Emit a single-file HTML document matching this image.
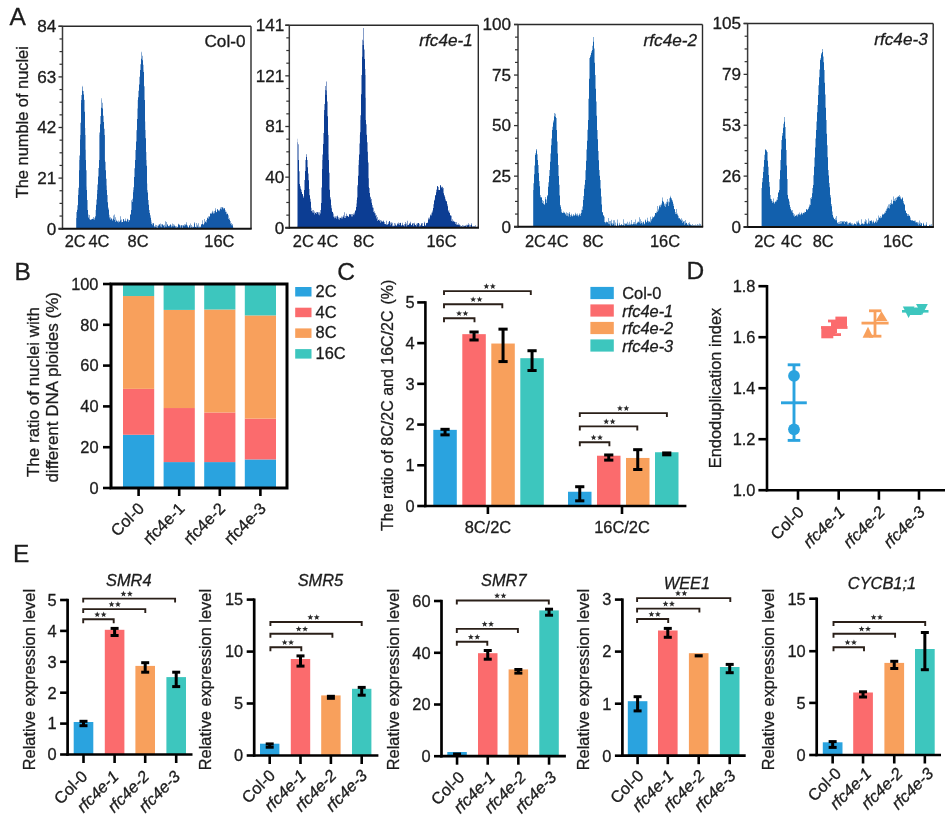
<!DOCTYPE html>
<html><head><meta charset="utf-8"><style>
html,body{margin:0;padding:0;background:#fff;}
body{width:945px;height:821px;overflow:hidden;}
svg{display:block;font-family:"Liberation Sans",sans-serif;will-change:transform;}
</style></head><body>
<svg width="945" height="821" viewBox="0 0 945 821">
<rect width="945" height="821" fill="#fff"/>
<text x="9.5" y="24.7" font-size="24.5" text-anchor="start" fill="#1c1c1c" stroke="#1c1c1c" stroke-width="0.3">A</text>
<text x="0" y="0" font-size="16.4" text-anchor="middle" transform="translate(28.2 122.2) rotate(-90)" fill="#1c1c1c" stroke="#1c1c1c" stroke-width="0.3">The numble of nuclei</text>
<polygon points="76,228.7 76,228.7 76.2,228.7 76.2,218 76.5,218 76.5,212.03 77,212.03 77,209.04 77.1,209.04 77.1,210 77.5,210 77.5,205.15 78,205.15 78,195.05 78.4,195.05 78.4,190 78.5,190 78.5,187.74 79,187.74 79,170.19 79.3,170.19 79.3,160 79.5,160 79.5,155.59 80,155.59 80,139.47 80.2,139.47 80.2,135 80.5,135 80.5,122.83 81,122.83 81,103.04 81.1,103.04 81.1,100 81.5,100 81.5,95.08 82,95.08 82,90.72 82.4,90.72 82.4,85.5 82.5,85.5 82.5,86.55 83,86.55 83,90.95 83.5,90.95 83.5,94.58 84,94.58 84,99.26 84.1,99.26 84.1,100 84.5,100 84.5,111.67 85,111.67 85,127.93 85.2,127.93 85.2,135 85.5,135 85.5,149.83 85.7,149.83 85.7,160 86,160 86,170.21 86.5,170.21 86.5,186.55 86.6,186.55 86.6,190 87,190 87,200.07 87.5,200.07 87.5,210 88,210 88,214.55 88.4,214.55 88.4,218 88.5,218 88.5,217.4 89,217.4 89,219.2 89.5,219.2 89.5,215.09 90,215.09 90,219.5 90.5,219.5 90.5,220.09 91,220.09 91,219.5 91.5,219.5 91.5,219.18 92,219.18 92,219 92.5,219 92.5,218.75 93,218.75 93,216.95 93.5,216.95 93.5,219.15 94,219.15 94,219.7 94.5,219.7 94.5,217.81 95,217.81 95,216.21 95.4,216.21 95.4,218 95.5,218 95.5,216.41 95.7,216.41 95.7,210 96,210 96,204.86 96.5,204.86 96.5,199.53 97,199.53 97,193.94 97.2,193.94 97.2,190 97.5,190 97.5,184.47 98,184.47 98,176.46 98.5,176.46 98.5,167.99 99,167.99 99,160 99.4,160 99.4,135 99.5,135 99.5,132.49 100,132.49 100,124.21 100.5,124.21 100.5,116.01 101,116.01 101,107.67 101.5,107.67 101.5,99.93 101.6,99.93 101.6,98.3 102,98.3 102,102.79 102.5,102.79 102.5,108.5 103,108.5 103,115.82 103.5,115.82 103.5,122.03 104,122.03 104,128.83 104.5,128.83 104.5,135 104.9,135 104.9,160 105,160 105,161.7 105.5,161.7 105.5,170.28 106,170.28 106,178.76 106.5,178.76 106.5,185.6 106.7,185.6 106.7,190 107,190 107,195.12 107.5,195.12 107.5,202.16 108,202.16 108,206.9 108.2,206.9 108.2,210 108.5,210 108.5,208.48 109,208.48 109,214.65 109.4,214.65 109.4,219 109.5,219 109.5,217.42 110,217.42 110,217.21 110.5,217.21 110.5,219.65 111,219.65 111,218.29 111.5,218.29 111.5,218.82 112,218.82 112,220.85 112.5,220.85 112.5,219.4 113,219.4 113,215.61 113.5,215.61 113.5,218.77 114,218.77 114,214.57 114.5,214.57 114.5,220 115,220 115,217.33 115.5,217.33 115.5,221.98 116,221.98 116,220.94 116.5,220.94 116.5,219.71 117,219.71 117,221.41 117.5,221.41 117.5,221.53 118,221.53 118,220.5 118.5,220.5 118.5,222.42 119,222.42 119,221.68 119.5,221.68 119.5,221.39 120,221.39 120,220.48 120.5,220.48 120.5,216.31 121,216.31 121,219.4 121.5,219.4 121.5,222.17 122,222.17 122,222.07 122.5,222.07 122.5,222.12 123,222.12 123,219.16 123.5,219.16 123.5,219.04 124,219.04 124,220.73 124.5,220.73 124.5,221.57 125,221.57 125,220.8 125.5,220.8 125.5,218.5 126,218.5 126,221.78 126.5,221.78 126.5,221.12 127,221.12 127,218.81 127.5,218.81 127.5,219.41 128,219.41 128,221.94 128.5,221.94 128.5,219.64 129,219.64 129,220.91 129.2,220.91 129.2,220 129.5,220 129.5,219.95 130,219.95 130,214.14 130.5,214.14 130.5,214.7 131,214.7 131,210 131.5,210 131.5,200.25 132,200.25 132,201.9 132.5,201.9 132.5,198.69 133,198.69 133,192.34 133.3,192.34 133.3,190 133.5,190 133.5,187.25 134,187.25 134,176.95 134.5,176.95 134.5,168.23 135,168.23 135,160 135.5,160 135.5,150 136,150 136,141.46 136.5,141.46 136.5,131.3 136.6,131.3 136.6,130 137,130 137,119.11 137.5,119.11 137.5,108.48 137.8,108.48 137.8,100 138,100 138,97.17 138.5,97.17 138.5,90.65 139,90.65 139,84.61 139.5,84.61 139.5,76.63 140,76.63 140,70 140.5,70 140.5,64.32 141,64.32 141,58.7 141.5,58.7 141.5,52.99 141.6,52.99 141.6,51.8 142,51.8 142,55.7 142.5,55.7 142.5,60.14 143,60.14 143,64.76 143.4,64.76 143.4,70 143.5,70 143.5,71.94 144,71.94 144,86.3 144.5,86.3 144.5,100 145,100 145,121.56 145.2,121.56 145.2,130 145.5,130 145.5,138.23 146,138.23 146,151.95 146.3,151.95 146.3,160 146.5,160 146.5,165.72 147,165.72 147,183.48 147.2,183.48 147.2,190 147.5,190 147.5,192.44 148,192.44 148,199.98 148.5,199.98 148.5,204.69 149,204.69 149,210 149.5,210 149.5,213.06 150,213.06 150,215.27 150.5,215.27 150.5,217.64 151,217.64 151,220.35 151.3,220.35 151.3,222 151.5,222 151.5,224.07 152,224.07 152,223.28 152.5,223.28 152.5,225.14 153,225.14 153,223.01 153.5,223.01 153.5,223.55 154,223.55 154,226 154.5,226 154.5,227.14 155,227.14 155,224.63 155.5,224.63 155.5,226.66 156,226.66 156,227.55 156.5,227.55 156.5,224.91 157,224.91 157,225.63 157.5,225.63 157.5,228 158,228 158,224.69 158.5,224.69 158.5,226.11 159,226.11 159,224.84 159.5,224.84 159.5,224.06 160,224.06 160,223.5 160.5,223.5 160.5,226.57 161,226.57 161,224.33 161.5,224.33 161.5,227.23 162,227.23 162,224.51 162.5,224.51 162.5,224.25 163,224.25 163,225.18 163.5,225.18 163.5,225.79 164,225.79 164,227.38 164.5,227.38 164.5,224.71 165,224.71 165,226.4 165.5,226.4 165.5,221.26 166,221.26 166,221.99 166.5,221.99 166.5,226.67 167,226.67 167,224.48 167.5,224.48 167.5,224.41 168,224.41 168,225.97 168.5,225.97 168.5,226.37 169,226.37 169,225.23 169.5,225.23 169.5,226.28 170,226.28 170,224.61 170.5,224.61 170.5,224.38 171,224.38 171,225.43 171.5,225.43 171.5,227.23 172,227.23 172,226.2 172.5,226.2 172.5,223.46 173,223.46 173,224.27 173.5,224.27 173.5,226.42 174,226.42 174,226.12 174.5,226.12 174.5,224.65 175,224.65 175,225.96 175.5,225.96 175.5,227.57 176,227.57 176,226.27 176.5,226.27 176.5,228.17 177,228.17 177,227.58 177.5,227.58 177.5,226.8 178,226.8 178,223.83 178.5,223.83 178.5,224.55 179,224.55 179,225.29 179.5,225.29 179.5,224.62 180,224.62 180,227.76 180.5,227.76 180.5,225.42 181,225.42 181,225.47 181.5,225.47 181.5,224.93 182,224.93 182,225.36 182.5,225.36 182.5,228.2 183,228.2 183,225.29 183.5,225.29 183.5,225.56 184,225.56 184,224.33 184.5,224.33 184.5,226.23 185,226.23 185,225.14 185.5,225.14 185.5,224.36 186,224.36 186,224.71 186.5,224.71 186.5,222.26 187,222.26 187,225.29 187.5,225.29 187.5,226.48 188,226.48 188,227 188.5,227 188.5,227.89 189,227.89 189,225.68 189.5,225.68 189.5,224.98 190,224.98 190,223.38 190.5,223.38 190.5,227.96 191,227.96 191,227.34 191.5,227.34 191.5,224.96 192,224.96 192,226.43 192.5,226.43 192.5,227.64 193,227.64 193,226.76 193.5,226.76 193.5,227.16 194,227.16 194,223.52 194.5,223.52 194.5,222.29 195,222.29 195,226.68 195.5,226.68 195.5,226.96 196,226.96 196,222.92 196.5,222.92 196.5,227.46 197,227.46 197,226.61 197.5,226.61 197.5,224.74 198,224.74 198,223.32 198.5,223.32 198.5,227.4 199,227.4 199,227.45 199.5,227.45 199.5,226.47 200,226.47 200,226.5 200.5,226.5 200.5,227.16 201,227.16 201,224.38 201.5,224.38 201.5,224.29 202,224.29 202,224.08 202.5,224.08 202.5,220.33 203,220.33 203,224.73 203.5,224.73 203.5,224.34 204,224.34 204,223.29 204.5,223.29 204.5,218.95 205,218.95 205,221.21 205.5,221.21 205.5,222 206,222 206,222.42 206.5,222.42 206.5,220.08 207,220.08 207,218.27 207.5,218.27 207.5,217.41 208,217.41 208,216.28 208.5,216.28 208.5,218.67 209,218.67 209,216 209.5,216 209.5,217.07 210,217.07 210,213.97 210.5,213.97 210.5,213 211,213 211,214.05 211.5,214.05 211.5,212.81 212,212.81 212,212.5 212.5,212.5 212.5,210.63 213,210.63 213,213.53 213.5,213.53 213.5,213.4 213.7,213.4 213.7,211.5 214,211.5 214,210.88 214.5,210.88 214.5,213.22 215,213.22 215,210.49 215.5,210.49 215.5,208.22 216,208.22 216,212.04 216.5,212.04 216.5,212.27 217,212.27 217,209.41 217.5,209.41 217.5,208.93 218,208.93 218,210 218.5,210 218.5,211.07 219,211.07 219,211.3 219.5,211.3 219.5,209.66 220,209.66 220,207.48 220.5,207.48 220.5,208.91 221,208.91 221,209.51 221.5,209.51 221.5,206.95 222,206.95 222,207.08 222.5,207.08 222.5,207.77 223,207.77 223,209.17 223.5,209.17 223.5,207.08 223.6,207.08 223.6,208 224,208 224,208.28 224.5,208.28 224.5,208.23 225,208.23 225,212.09 225.5,212.09 225.5,210.23 226,210.23 226,214.22 226.5,214.22 226.5,211.68 227,211.68 227,214 227.5,214 227.5,213.53 228,213.53 228,215.37 228.5,215.37 228.5,219.05 229,219.05 229,218.32 229.5,218.32 229.5,219.93 230,219.93 230,221 230.5,221 230.5,223.83 231,223.83 231,222.94 231.5,222.94 231.5,225.34 232,225.34 232,223.93 232.5,223.93 232.5,225.41 233,225.41 233,228.59 233.5,228.59 233.5,227.65 234,227.65 234,228.7 234.5,228.7 234.5,228.59 235,228.59 234.5,228.7" fill="#1459a8"/>
<line x1="58.5" y1="26.3" x2="251" y2="26.3" stroke="#2a2a2a" stroke-width="1.4" stroke-linecap="butt"/>
<line x1="251" y1="26.3" x2="251" y2="228.7" stroke="#2a2a2a" stroke-width="1.4" stroke-linecap="butt"/>
<line x1="62.5" y1="26.3" x2="62.5" y2="229.5" stroke="#3a3a3a" stroke-width="1.5" stroke-linecap="butt"/>
<line x1="58.5" y1="228.7" x2="251.7" y2="228.7" stroke="#111" stroke-width="2" stroke-linecap="butt"/>
<line x1="58.5" y1="228.7" x2="62.5" y2="228.7" stroke="#333" stroke-width="1.3" stroke-linecap="butt"/>
<text x="0" y="0" font-size="16.3" text-anchor="end" transform="translate(56.3 234.5) scale(1.05 1)" fill="#1c1c1c" stroke="#1c1c1c" stroke-width="0.3">0</text>
<line x1="59.5" y1="216.05" x2="62.5" y2="216.05" stroke="#333" stroke-width="1.2" stroke-linecap="butt"/>
<line x1="59.5" y1="203.4" x2="62.5" y2="203.4" stroke="#333" stroke-width="1.2" stroke-linecap="butt"/>
<line x1="59.5" y1="190.75" x2="62.5" y2="190.75" stroke="#333" stroke-width="1.2" stroke-linecap="butt"/>
<line x1="58.5" y1="178.1" x2="62.5" y2="178.1" stroke="#333" stroke-width="1.3" stroke-linecap="butt"/>
<text x="0" y="0" font-size="16.3" text-anchor="end" transform="translate(56.3 183.9) scale(1.05 1)" fill="#1c1c1c" stroke="#1c1c1c" stroke-width="0.3">21</text>
<line x1="59.5" y1="165.45" x2="62.5" y2="165.45" stroke="#333" stroke-width="1.2" stroke-linecap="butt"/>
<line x1="59.5" y1="152.8" x2="62.5" y2="152.8" stroke="#333" stroke-width="1.2" stroke-linecap="butt"/>
<line x1="59.5" y1="140.15" x2="62.5" y2="140.15" stroke="#333" stroke-width="1.2" stroke-linecap="butt"/>
<line x1="58.5" y1="127.5" x2="62.5" y2="127.5" stroke="#333" stroke-width="1.3" stroke-linecap="butt"/>
<text x="0" y="0" font-size="16.3" text-anchor="end" transform="translate(56.3 133.3) scale(1.05 1)" fill="#1c1c1c" stroke="#1c1c1c" stroke-width="0.3">42</text>
<line x1="59.5" y1="114.85" x2="62.5" y2="114.85" stroke="#333" stroke-width="1.2" stroke-linecap="butt"/>
<line x1="59.5" y1="102.2" x2="62.5" y2="102.2" stroke="#333" stroke-width="1.2" stroke-linecap="butt"/>
<line x1="59.5" y1="89.55" x2="62.5" y2="89.55" stroke="#333" stroke-width="1.2" stroke-linecap="butt"/>
<line x1="58.5" y1="76.9" x2="62.5" y2="76.9" stroke="#333" stroke-width="1.3" stroke-linecap="butt"/>
<text x="0" y="0" font-size="16.3" text-anchor="end" transform="translate(56.3 82.7) scale(1.05 1)" fill="#1c1c1c" stroke="#1c1c1c" stroke-width="0.3">63</text>
<line x1="59.5" y1="64.25" x2="62.5" y2="64.25" stroke="#333" stroke-width="1.2" stroke-linecap="butt"/>
<line x1="59.5" y1="51.6" x2="62.5" y2="51.6" stroke="#333" stroke-width="1.2" stroke-linecap="butt"/>
<line x1="59.5" y1="38.95" x2="62.5" y2="38.95" stroke="#333" stroke-width="1.2" stroke-linecap="butt"/>
<line x1="58.5" y1="26.3" x2="62.5" y2="26.3" stroke="#333" stroke-width="1.3" stroke-linecap="butt"/>
<text x="0" y="0" font-size="16.3" text-anchor="end" transform="translate(56.3 32.1) scale(1.05 1)" fill="#1c1c1c" stroke="#1c1c1c" stroke-width="0.3">84</text>
<text x="0" y="0" font-size="16.2" text-anchor="end" transform="translate(245.5 47.3) scale(1.06 1)" fill="#1c1c1c" stroke="#1c1c1c" stroke-width="0.3">Col-0</text>
<text x="0" y="0" font-size="15.8" text-anchor="start" transform="translate(64.7 246.6) scale(1.04 1)" fill="#1c1c1c" stroke="#1c1c1c" stroke-width="0.3">2C</text>
<text x="0" y="0" font-size="15.8" text-anchor="start" transform="translate(88.4 246.6) scale(1.04 1)" fill="#1c1c1c" stroke="#1c1c1c" stroke-width="0.3">4C</text>
<text x="0" y="0" font-size="15.8" text-anchor="start" transform="translate(127.5 246.6) scale(1.04 1)" fill="#1c1c1c" stroke="#1c1c1c" stroke-width="0.3">8C</text>
<text x="0" y="0" font-size="15.8" text-anchor="start" transform="translate(204.3 246.6) scale(1.04 1)" fill="#1c1c1c" stroke="#1c1c1c" stroke-width="0.3">16C</text>
<polygon points="297,227.8 297,225.8 297.1,225.8 297.1,227.8 297.5,227.8 297.5,142.31 297.8,142.31 297.8,138.8 298,138.8 298,144.25 298.5,144.25 298.5,160 299,160 299,171.17 299.5,171.17 299.5,184 300,184 300,186.34 300.5,186.34 300.5,188.86 301,188.86 301,189.7 301.5,189.7 301.5,191.89 302,191.89 302,193.96 302.5,193.96 302.5,194.33 303,194.33 303,196.31 303.5,196.31 303.5,197.7 304,197.7 304,189.98 304.5,189.98 304.5,180 305,180 305,171.01 305.5,171.01 305.5,160 306,160 306,156.89 306.5,156.89 306.5,153.83 306.6,153.83 306.6,154.2 307,154.2 307,160.07 307.5,160.07 307.5,167.15 308,167.15 308,173.6 308.5,173.6 308.5,180.21 309,180.21 309,188.98 309.4,188.98 309.4,195 309.5,195 309.5,195.35 310,195.35 310,198.69 310.5,198.69 310.5,201.84 311,201.84 311,207.64 311.4,207.64 311.4,211 311.5,211 311.5,210.96 312,210.96 312,210.32 312.5,210.32 312.5,212.43 313,212.43 313,209.98 313.5,209.98 313.5,212.86 314,212.86 314,211.47 314.5,211.47 314.5,214.42 315,214.42 315,213 315.5,213 315.5,212.73 316,212.73 316,211.89 316.5,211.89 316.5,214.11 317,214.11 317,212.02 317.5,212.02 317.5,212.5 318,212.5 318,212.22 318.5,212.22 318.5,214.39 319,214.39 319,215.21 319.5,215.21 319.5,212.2 320,212.2 320,213.5 320.5,213.5 320.5,210.05 321,210.05 321,203 321.5,203 321.5,187.6 322,187.6 322,169.06 322.3,169.06 322.3,160 322.5,160 322.5,154.44 323,154.44 323,143.99 323.5,143.99 323.5,133 324,133 324,114.75 324.1,114.75 324.1,110 324.5,110 324.5,103.92 325,103.92 325,94.67 325.2,94.67 325.2,90 325.5,90 325.5,86.06 326,86.06 326,81.5 326.5,81.5 326.5,90.53 326.8,90.53 326.8,95 327,95 327,101.55 327.5,101.55 327.5,116.25 328,116.25 328,131.62 328.1,131.62 328.1,135 328.5,135 328.5,154.21 328.6,154.21 328.6,160 329,160 329,172.67 329.5,172.67 329.5,189.7 330,189.7 330,197.13 330.5,197.13 330.5,199.41 331,199.41 331,205.35 331.4,205.35 331.4,211 331.5,211 331.5,208.26 332,208.26 332,211.76 332.5,211.76 332.5,212.1 333,212.1 333,213.45 333.5,213.45 333.5,216.69 334,216.69 334,216.5 334.5,216.5 334.5,218.31 335,218.31 335,217.74 335.5,217.74 335.5,216.23 336,216.23 336,218.83 336.5,218.83 336.5,216.17 337,216.17 337,216.52 337.5,216.52 337.5,215.39 338,215.39 338,219.17 338.5,219.17 338.5,217.31 339,217.31 339,217.65 339.5,217.65 339.5,219.69 340,219.69 340,218 340.5,218 340.5,217.84 341,217.84 341,216.46 341.5,216.46 341.5,218.55 342,218.55 342,218.55 342.5,218.55 342.5,216.63 343,216.63 343,216.63 343.5,216.63 343.5,215.36 344,215.36 344,217.92 344.5,217.92 344.5,212.15 345,212.15 345,215.94 345.5,215.94 345.5,218.04 346,218.04 346,213.69 346.5,213.69 346.5,216.23 347,216.23 347,215.88 347.5,215.88 347.5,215.63 348,215.63 348,216.52 348.5,216.52 348.5,217.08 349,217.08 349,214.04 349.5,214.04 349.5,214.59 350,214.59 350,214.77 350.5,214.77 350.5,213.94 351,213.94 351,213.99 351.5,213.99 351.5,216.41 352,216.41 352,214.04 352.5,214.04 352.5,216.57 353,216.57 353,213.39 353.5,213.39 353.5,214.94 354,214.94 354,212.6 354.5,212.6 354.5,215.33 354.7,215.33 354.7,214 355,214 355,210.48 355.5,210.48 355.5,210.56 356,210.56 356,207.05 356.5,207.05 356.5,203.46 356.8,203.46 356.8,200 357,200 357,197.45 357.4,197.45 357.4,187 357.5,187 357.5,185.3 358,185.3 358,175.72 358.5,175.72 358.5,165.11 358.8,165.11 358.8,160 359,160 359,154.59 359.5,154.59 359.5,143.38 359.9,143.38 359.9,135 360,135 360,132.24 360.4,132.24 360.4,120 360.5,120 360.5,115.2 361,115.2 361,94.28 361.5,94.28 361.5,75 362,75 362,56.68 362.3,56.68 362.3,45 362.5,45 362.5,39.69 363,39.69 363,28 363.5,28 363.5,40.85 363.7,40.85 363.7,45 364,45 364,49.58 364.5,49.58 364.5,59.04 365,59.04 365,69.12 365.3,69.12 365.3,75 365.5,75 365.5,97.83 365.7,97.83 365.7,120 366,120 366,124.19 366.5,124.19 366.5,133.8 366.6,133.8 366.6,135 367,135 367,142.17 367.5,142.17 367.5,151.85 367.9,151.85 367.9,160 368,160 368,162.55 368.5,162.55 368.5,178.16 368.8,178.16 368.8,187 369,187 369,187.97 369.5,187.97 369.5,193.01 370,193.01 370,196.79 370.5,196.79 370.5,197.51 370.8,197.51 370.8,200 371,200 371,198.91 371.5,198.91 371.5,202.81 372,202.81 372,204.96 372.5,204.96 372.5,207.4 373,207.4 373,207.84 373.5,207.84 373.5,212 374,212 374,211.25 374.5,211.25 374.5,213.26 375,213.26 375,213.25 375.5,213.25 375.5,215.64 376,215.64 376,214.88 376.5,214.88 376.5,218.55 377,218.55 377,217.01 377.5,217.01 377.5,220.88 378,220.88 378,220 378.5,220 378.5,219.84 379,219.84 379,221.05 379.5,221.05 379.5,219.5 380,219.5 380,220.03 380.5,220.03 380.5,222.81 381,222.81 381,220.45 381.5,220.45 381.5,221.6 382,221.6 382,221.82 382.5,221.82 382.5,221.56 383,221.56 383,221.54 383.5,221.54 383.5,220.58 384,220.58 384,221.9 384.5,221.9 384.5,223.91 385,223.91 385,224 385.5,224 385.5,224.34 386,224.34 386,224.66 386.5,224.66 386.5,220.74 387,220.74 387,224.01 387.5,224.01 387.5,225.12 388,225.12 388,223.91 388.5,223.91 388.5,222.16 389,222.16 389,221.22 389.5,221.22 389.5,221.06 390,221.06 390,222.45 390.5,222.45 390.5,225.25 391,225.25 391,222.37 391.5,222.37 391.5,223.67 392,223.67 392,222.72 392.5,222.72 392.5,226.17 393,226.17 393,225.46 393.5,225.46 393.5,226.14 394,226.14 394,226.05 394.5,226.05 394.5,222.9 395,222.9 395,223.6 395.5,223.6 395.5,225.29 396,225.29 396,225.86 396.5,225.86 396.5,225.55 397,225.55 397,224.31 397.5,224.31 397.5,223.15 398,223.15 398,224.35 398.5,224.35 398.5,222.48 399,222.48 399,222.99 399.5,222.99 399.5,225.08 400,225.08 400,223.05 400.5,223.05 400.5,222.85 401,222.85 401,224.95 401.5,224.95 401.5,225.9 402,225.9 402,224.75 402.5,224.75 402.5,222.86 403,222.86 403,224.97 403.5,224.97 403.5,225.65 404,225.65 404,226.44 404.5,226.44 404.5,223.93 405,223.93 405,224.27 405.5,224.27 405.5,221.94 406,221.94 406,223.54 406.5,223.54 406.5,226.47 407,226.47 407,225.2 407.5,225.2 407.5,220.7 408,220.7 408,225.04 408.5,225.04 408.5,224.64 409,224.64 409,223.13 409.5,223.13 409.5,223.72 410,223.72 410,221.65 410.5,221.65 410.5,223.53 411,223.53 411,225.01 411.5,225.01 411.5,225.16 412,225.16 412,223.21 412.5,223.21 412.5,223.66 413,223.66 413,223.08 413.5,223.08 413.5,226.2 414,226.2 414,224.33 414.5,224.33 414.5,222.78 415,222.78 415,225 415.5,225 415.5,225.34 416,225.34 416,226.52 416.5,226.52 416.5,223.78 417,223.78 417,222.98 417.5,222.98 417.5,224.44 418,224.44 418,223.06 418.5,223.06 418.5,222.89 419,222.89 419,226.61 419.5,226.61 419.5,223.66 420,223.66 420,224.9 420.5,224.9 420.5,226.14 421,226.14 421,224.14 421.5,224.14 421.5,223.11 422,223.11 422,226.06 422.5,226.06 422.5,222.96 423,222.96 423,225.93 423.5,225.93 423.5,225.93 424,225.93 424,221.8 424.5,221.8 424.5,223.14 425,223.14 425,225 425.5,225 425.5,225.88 426,225.88 426,223.06 426.5,223.06 426.5,223.24 427,223.24 427,223 427.5,223 427.5,222.44 428,222.44 428,219.61 428.5,219.61 428.5,217.68 429,217.68 429,217.43 429.5,217.43 429.5,219.14 430,219.14 430,215.54 430.5,215.54 430.5,214.42 431,214.42 431,215.61 431.5,215.61 431.5,213.62 431.7,213.62 431.7,212.4 432,212.4 432,212.55 432.5,212.55 432.5,210.6 433,210.6 433,208.05 433.5,208.05 433.5,204.37 434,204.37 434,199.83 434.5,199.83 434.5,197.92 434.6,197.92 434.6,200.7 435,200.7 435,195.06 435.5,195.06 435.5,195.62 436,195.62 436,192.14 436.4,192.14 436.4,189 436.5,189 436.5,189.67 437,189.67 437,186.32 437.5,186.32 437.5,186 438,186 438,187.01 438.5,187.01 438.5,189.94 439,189.94 439,190 439.5,190 439.5,189.9 440,189.9 440,185.62 440.5,185.62 440.5,185 441,185 441,186.86 441.5,186.86 441.5,187.81 442,187.81 442,186.67 442.5,186.67 442.5,187.3 442.8,187.3 442.8,189 443,189 443,187.94 443.5,187.94 443.5,193.22 444,193.22 444,195.09 444.5,195.09 444.5,196.4 445,196.4 445,199.18 445.5,199.18 445.5,197.3 445.7,197.3 445.7,200.7 446,200.7 446,200.98 446.5,200.98 446.5,201.46 447,201.46 447,204.18 447.5,204.18 447.5,206.19 448,206.19 448,210.24 448.5,210.24 448.5,211.47 449,211.47 449,209.86 449.2,209.86 449.2,212.4 449.5,212.4 449.5,212.91 450,212.91 450,215.54 450.5,215.54 450.5,215.16 451,215.16 451,215.81 451.5,215.81 451.5,221 452,221 452,219.33 452.5,219.33 452.5,221.58 453,221.58 453,220.66 453.5,220.66 453.5,221.62 454,221.62 454,221.58 454.5,221.58 454.5,221.98 455,221.98 455,223.95 455.5,223.95 455.5,221.9 456,221.9 456,222.09 456.5,222.09 456.5,224.87 457,224.87 457,224.9 457.5,224.9 457.5,224.3 458,224.3 458,225 458.5,225 458.5,223.17 459,223.17 459,224.2 459.5,224.2 459.5,225.22 460,225.22 460,226.82 460.5,226.82 460.5,225.2 461,225.2 461,226.45 461.5,226.45 461.5,226.09 462,226.09 462,224.88 462.5,224.88 462.5,227.02 463,227.02 463,226.68 463.5,226.68 463.5,225.54 464,225.54 464,226.17 464.5,226.17 464.5,225.78 465,225.78 465,226 465.5,226 465.5,225.23 466,225.23 466,227.42 466.5,227.42 466.5,224.69 467,224.69 467,225.39 467.5,225.39 467.5,224.75 468,224.75 468,224.88 468.5,224.88 468.5,223.15 469,223.15 469,224.57 469.5,224.57 469.5,227.8 470,227.8 470,227.14 470.5,227.14 470.5,225.01 471,225.01 471,224.68 471.5,224.68 471.5,223.33 472,223.33 472,227.46 472.5,227.46 472.5,226.31 473,226.31 473,226.19 473.5,226.19 473.5,226.77 474,226.77 474,227.34 474.5,227.34 474.5,226.12 475,226.12 475,227.41 475.5,227.41 475.5,225.35 476,225.35 476,227.8 476.5,227.8 476.5,227.28 477,227.28 477,226.5 477.5,226.5 477,227.8" fill="#0c3d93"/>
<line x1="285.3" y1="25.2" x2="478.3" y2="25.2" stroke="#2a2a2a" stroke-width="1.4" stroke-linecap="butt"/>
<line x1="478.3" y1="25.2" x2="478.3" y2="227.8" stroke="#2a2a2a" stroke-width="1.4" stroke-linecap="butt"/>
<line x1="289.3" y1="25.2" x2="289.3" y2="228.6" stroke="#3a3a3a" stroke-width="1.5" stroke-linecap="butt"/>
<line x1="285.3" y1="227.8" x2="479" y2="227.8" stroke="#111" stroke-width="2" stroke-linecap="butt"/>
<line x1="285.3" y1="227.8" x2="289.3" y2="227.8" stroke="#333" stroke-width="1.3" stroke-linecap="butt"/>
<text x="0" y="0" font-size="16.3" text-anchor="end" transform="translate(284.3 233.6) scale(1.05 1)" fill="#1c1c1c" stroke="#1c1c1c" stroke-width="0.3">0</text>
<line x1="286.3" y1="215.14" x2="289.3" y2="215.14" stroke="#333" stroke-width="1.2" stroke-linecap="butt"/>
<line x1="286.3" y1="202.48" x2="289.3" y2="202.48" stroke="#333" stroke-width="1.2" stroke-linecap="butt"/>
<line x1="286.3" y1="189.81" x2="289.3" y2="189.81" stroke="#333" stroke-width="1.2" stroke-linecap="butt"/>
<line x1="285.3" y1="177.15" x2="289.3" y2="177.15" stroke="#333" stroke-width="1.3" stroke-linecap="butt"/>
<text x="0" y="0" font-size="16.3" text-anchor="end" transform="translate(284.3 182.95) scale(1.05 1)" fill="#1c1c1c" stroke="#1c1c1c" stroke-width="0.3">40</text>
<line x1="286.3" y1="164.49" x2="289.3" y2="164.49" stroke="#333" stroke-width="1.2" stroke-linecap="butt"/>
<line x1="286.3" y1="151.82" x2="289.3" y2="151.82" stroke="#333" stroke-width="1.2" stroke-linecap="butt"/>
<line x1="286.3" y1="139.16" x2="289.3" y2="139.16" stroke="#333" stroke-width="1.2" stroke-linecap="butt"/>
<line x1="285.3" y1="126.5" x2="289.3" y2="126.5" stroke="#333" stroke-width="1.3" stroke-linecap="butt"/>
<text x="0" y="0" font-size="16.3" text-anchor="end" transform="translate(284.3 132.3) scale(1.05 1)" fill="#1c1c1c" stroke="#1c1c1c" stroke-width="0.3">81</text>
<line x1="286.3" y1="113.84" x2="289.3" y2="113.84" stroke="#333" stroke-width="1.2" stroke-linecap="butt"/>
<line x1="286.3" y1="101.17" x2="289.3" y2="101.17" stroke="#333" stroke-width="1.2" stroke-linecap="butt"/>
<line x1="286.3" y1="88.51" x2="289.3" y2="88.51" stroke="#333" stroke-width="1.2" stroke-linecap="butt"/>
<line x1="285.3" y1="75.85" x2="289.3" y2="75.85" stroke="#333" stroke-width="1.3" stroke-linecap="butt"/>
<text x="0" y="0" font-size="16.3" text-anchor="end" transform="translate(284.3 81.65) scale(1.05 1)" fill="#1c1c1c" stroke="#1c1c1c" stroke-width="0.3">121</text>
<line x1="286.3" y1="63.19" x2="289.3" y2="63.19" stroke="#333" stroke-width="1.2" stroke-linecap="butt"/>
<line x1="286.3" y1="50.52" x2="289.3" y2="50.52" stroke="#333" stroke-width="1.2" stroke-linecap="butt"/>
<line x1="286.3" y1="37.86" x2="289.3" y2="37.86" stroke="#333" stroke-width="1.2" stroke-linecap="butt"/>
<line x1="285.3" y1="25.2" x2="289.3" y2="25.2" stroke="#333" stroke-width="1.3" stroke-linecap="butt"/>
<text x="0" y="0" font-size="16.3" text-anchor="end" transform="translate(284.3 31) scale(1.05 1)" fill="#1c1c1c" stroke="#1c1c1c" stroke-width="0.3">141</text>
<text x="0" y="0" font-size="16.2" text-anchor="end" font-style="italic" transform="translate(472.8 46.2) scale(1.06 1)" fill="#1c1c1c" stroke="#1c1c1c" stroke-width="0.3">rfc4e-1</text>
<text x="0" y="0" font-size="15.8" text-anchor="start" transform="translate(292.8 246.6) scale(1.04 1)" fill="#1c1c1c" stroke="#1c1c1c" stroke-width="0.3">2C</text>
<text x="0" y="0" font-size="15.8" text-anchor="start" transform="translate(317.3 246.6) scale(1.04 1)" fill="#1c1c1c" stroke="#1c1c1c" stroke-width="0.3">4C</text>
<text x="0" y="0" font-size="15.8" text-anchor="start" transform="translate(353.3 246.6) scale(1.04 1)" fill="#1c1c1c" stroke="#1c1c1c" stroke-width="0.3">8C</text>
<text x="0" y="0" font-size="15.8" text-anchor="start" transform="translate(426.4 246.6) scale(1.04 1)" fill="#1c1c1c" stroke="#1c1c1c" stroke-width="0.3">16C</text>
<polygon points="533,226.7 533,226.7 533.2,226.7 533.2,190 533.5,190 533.5,183.2 534,183.2 534,174.25 534.5,174.25 534.5,165.4 535,165.4 535,155 535.5,155 535.5,153.31 536,153.31 536,150.4 536.5,150.4 536.5,149 537,149 537,154.23 537.5,154.23 537.5,159.96 538,159.96 538,165 538.5,165 538.5,172.92 539,172.92 539,181.03 539.5,181.03 539.5,186.23 540,186.23 540,195 540.5,195 540.5,197.36 541,197.36 541,197.05 541.5,197.05 541.5,197.79 542,197.79 542,200 542.5,200 542.5,203.01 543,203.01 543,200.9 543.5,200.9 543.5,203.91 544,203.91 544,205 544.5,205 544.5,203.65 545,203.65 545,199.31 545.5,199.31 545.5,197 546,197 546,199.57 546.5,199.57 546.5,203 547,203 547,196.24 547.5,196.24 547.5,195 548,195 548,186.8 548.5,186.8 548.5,182.3 549,182.3 549,176.06 549.5,176.06 549.5,170 550,170 550,161.65 550.5,161.65 550.5,153.44 551,153.44 551,145.34 551.5,145.34 551.5,138.58 552,138.58 552,130 552.5,130 552.5,126.66 553,126.66 553,122.53 553.5,122.53 553.5,120.52 554,120.52 554,116.14 554.5,116.14 554.5,113 555,113 555,113.78 555.5,113.78 555.5,117 556,117 556,118 556.5,118 556.5,130.07 557,130.07 557,141.43 557.5,141.43 557.5,153.4 558,153.4 558,165 558.5,165 558.5,176.11 559,176.11 559,184.65 559.5,184.65 559.5,195.56 560,195.56 560,205 560.5,205 560.5,206.87 561,206.87 561,209.19 561.5,209.19 561.5,212.33 562,212.33 562,213 562.5,213 562.5,212.63 563,212.63 563,212.95 563.5,212.95 563.5,211.39 564,211.39 564,212.62 564.5,212.62 564.5,212.83 565,212.83 565,213.46 565.5,213.46 565.5,214.51 566,214.51 566,215.71 566.5,215.71 566.5,212.35 567,212.35 567,215.87 567.5,215.87 567.5,212.94 568,212.94 568,213.5 568.5,213.5 568.5,216.43 569,216.43 569,211.89 569.5,211.89 569.5,213.81 570,213.81 570,215 570.5,215 570.5,216.67 571,216.67 571,213.77 571.5,213.77 571.5,215.58 572,215.58 572,215.87 572.5,215.87 572.5,216.4 573,216.4 573,214.09 573.5,214.09 573.5,215.47 574,215.47 574,215.15 574.5,215.15 574.5,215.67 575,215.67 575,214.44 575.5,214.44 575.5,212.85 576,212.85 576,214.18 576.5,214.18 576.5,215.64 577,215.64 577,213.55 577.5,213.55 577.5,215.62 578,215.62 578,216.46 578.5,216.46 578.5,215.35 579,215.35 579,214.65 579.5,214.65 579.5,213.47 580,213.47 580,216 580.5,216 580.5,213.82 581,213.82 581,213.04 581.5,213.04 581.5,209.79 582,209.79 582,210 582.5,210 582.5,206.45 583,206.45 583,199.9 583.5,199.9 583.5,196.08 584,196.08 584,188.84 584.5,188.84 584.5,184.84 585,184.84 585,180 585.5,180 585.5,170.13 586,170.13 586,160.78 586.5,160.78 586.5,149.5 587,149.5 587,140.79 587.5,140.79 587.5,129.77 588,129.77 588,120 588.5,120 588.5,98.79 589,98.79 589,78.68 589.5,78.68 589.5,58 590,58 590,56.87 590.5,56.87 590.5,55 591,55 591,52.93 591.5,52.93 591.5,51.23 592,51.23 592,50 592.5,50 592.5,45.87 593,45.87 593,41.66 593.5,41.66 593.5,37 594,37 594,48.56 594.5,48.56 594.5,62.87 595,62.87 595,75 595.5,75 595.5,88.86 596,88.86 596,101.42 596.5,101.42 596.5,115.77 597,115.77 597,130 597.5,130 597.5,139.26 598,139.26 598,151.01 598.5,151.01 598.5,160.26 599,160.26 599,170 599.5,170 599.5,175.69 600,175.69 600,180 600.5,180 600.5,188.45 601,188.45 601,196.47 601.5,196.47 601.5,204.51 602,204.51 602,212 602.5,212 602.5,212.52 603,212.52 603,215.16 603.5,215.16 603.5,215.41 604,215.41 604,216.81 604.5,216.81 604.5,221.99 605,221.99 605,222 605.5,222 605.5,223.36 606,223.36 606,221.46 606.5,221.46 606.5,222.33 607,222.33 607,222.58 607.5,222.58 607.5,221.89 608,221.89 608,217.92 608.5,217.92 608.5,223.8 609,223.8 609,221.03 609.5,221.03 609.5,224.3 610,224.3 610,226.07 610.5,226.07 610.5,220.9 611,220.9 611,223.42 611.5,223.42 611.5,219.64 612,219.64 612,225 612.5,225 612.5,223.31 613,223.31 613,220.14 613.5,220.14 613.5,223.85 614,223.85 614,220.15 614.5,220.15 614.5,225.65 615,225.65 615,222.6 615.5,222.6 615.5,225.55 616,225.55 616,226.41 616.5,226.41 616.5,226.49 617,226.49 617,219.51 617.5,219.51 617.5,223.55 618,223.55 618,225.43 618.5,225.43 618.5,225.92 619,225.92 619,222.67 619.5,222.67 619.5,224.69 620,224.69 620,225.06 620.5,225.06 620.5,225.5 621,225.5 621,224.85 621.5,224.85 621.5,223.9 622,223.9 622,225.33 622.5,225.33 622.5,225.29 623,225.29 623,219.34 623.5,219.34 623.5,224.88 624,224.88 624,223.36 624.5,223.36 624.5,225.9 625,225.9 625,224.35 625.5,224.35 625.5,223.62 626,223.62 626,223.37 626.5,223.37 626.5,224.23 627,224.23 627,225.01 627.5,225.01 627.5,221.75 628,221.75 628,223.39 628.5,223.39 628.5,224.93 629,224.93 629,221.79 629.5,221.79 629.5,224.83 630,224.83 630,223.83 630.5,223.83 630.5,224.9 631,224.9 631,224.2 631.5,224.2 631.5,219.92 632,219.92 632,224.57 632.5,224.57 632.5,224.34 633,224.34 633,222.23 633.5,222.23 633.5,223.97 634,223.97 634,222.04 634.5,222.04 634.5,224.18 635,224.18 635,219.46 635.5,219.46 635.5,224.18 636,224.18 636,223.37 636.5,223.37 636.5,224.55 637,224.55 637,222.88 637.5,222.88 637.5,221.69 638,221.69 638,221.61 638.5,221.61 638.5,222.3 639,222.3 639,222.42 639.5,222.42 639.5,217.37 640,217.37 640,219.14 640.5,219.14 640.5,223.84 641,223.84 641,223.04 641.5,223.04 641.5,221.1 642,221.1 642,224.53 642.5,224.53 642.5,222.47 643,222.47 643,221.53 643.5,221.53 643.5,222.15 644,222.15 644,223.47 644.5,223.47 644.5,224.22 645,224.22 645,220.48 645.5,220.48 645.5,219.38 646,219.38 646,222.47 646.5,222.47 646.5,222.04 647,222.04 647,220.81 647.5,220.81 647.5,217.81 648,217.81 648,221.11 648.5,221.11 648.5,222.6 649,222.6 649,222 649.5,222 649.5,221.17 650,221.17 650,222.61 650.5,222.61 650.5,216.87 651,216.87 651,218.91 651.5,218.91 651.5,220.49 652,220.49 652,216.44 652.5,216.44 652.5,218.46 653,218.46 653,217.08 653.5,217.08 653.5,217.39 654,217.39 654,216.46 654.5,216.46 654.5,215.49 655,215.49 655,212.92 655.5,212.92 655.5,212.9 656,212.9 656,213.18 656.5,213.18 656.5,211.58 657,211.58 657,212 657.5,212 657.5,205.95 658,205.95 658,208.86 658.5,208.86 658.5,210.44 659,210.44 659,206.52 659.5,206.52 659.5,205.34 660,205.34 660,207.32 660.5,207.32 660.5,204.75 661,204.75 661,205.22 661.5,205.22 661.5,203.43 662,203.43 662,197.51 662.5,197.51 662.5,201.12 662.6,201.12 662.6,200.7 663,200.7 663,201.4 663.5,201.4 663.5,202.15 664,202.15 664,203.71 664.5,203.71 664.5,205.65 665,205.65 665,207 665.5,207 665.5,203.49 666,203.49 666,204.19 666.5,204.19 666.5,201.69 667,201.69 667,199.07 667.3,199.07 667.3,199 667.5,199 667.5,202.16 668,202.16 668,201.47 668.5,201.47 668.5,206 669,206 669,202.26 669.5,202.26 669.5,198.23 670,198.23 670,196.61 670.3,196.61 670.3,195.5 670.5,195.5 670.5,197.53 671,197.53 671,198.06 671.5,198.06 671.5,199.45 672,199.45 672,200.34 672.5,200.34 672.5,201.78 673,201.78 673,206.06 673.5,206.06 673.5,203.8 674,203.8 674,208.92 674.5,208.92 674.5,209.34 675,209.34 675,212 675.5,212 675.5,214.05 676,214.05 676,209.08 676.5,209.08 676.5,214.03 677,214.03 677,213.42 677.5,213.42 677.5,215.34 678,215.34 678,218.26 678.5,218.26 678.5,215.66 679,215.66 679,218.31 679.5,218.31 679.5,218.27 680,218.27 680,220 680.5,220 680.5,218.99 681,218.99 681,218.25 681.5,218.25 681.5,220.78 682,220.78 682,219.82 682.5,219.82 682.5,222.93 683,222.93 683,221.28 683.5,221.28 683.5,221.86 684,221.86 684,220.91 684.5,220.91 684.5,224.82 685,224.82 685,223.39 685.5,223.39 685.5,219.9 686,219.9 686,222.89 686.5,222.89 686.5,222.74 687,222.74 687,224.19 687.5,224.19 687.5,225 688,225 688,223.11 688.5,223.11 688.5,225.38 689,225.38 689,222.25 689.5,222.25 689.5,224.21 690,224.21 690,225.16 690.5,225.16 690.5,224.34 691,224.34 691,224.88 691.5,224.88 691.5,225.66 692,225.66 692,223.92 692.5,223.92 692.5,226.36 693,226.36 693,226.7 693.5,226.7 693.5,225 694,225 694,226.7 694.5,226.7 694.5,225.1 695,225.1 695,226.66 695.5,226.66 695.5,224.55 696,224.55 696,225.37 696.5,225.37 696.5,226.7 697,226.7 697,226.7 697.5,226.7 697.5,223.95 698,223.95 698,226.7 698.5,226.7 698.5,224.81 699,224.81 699,226.38 699.5,226.38 699.5,223.43 700,223.43 700,224.1 700.5,224.1 700.5,226.7 701,226.7 701,226 701.5,226 701,226.7" fill="#1260ad"/>
<line x1="514" y1="24.5" x2="702.5" y2="24.5" stroke="#2a2a2a" stroke-width="1.4" stroke-linecap="butt"/>
<line x1="702.5" y1="24.5" x2="702.5" y2="226.7" stroke="#2a2a2a" stroke-width="1.4" stroke-linecap="butt"/>
<line x1="518" y1="24.5" x2="518" y2="227.5" stroke="#3a3a3a" stroke-width="1.5" stroke-linecap="butt"/>
<line x1="514" y1="226.7" x2="703.2" y2="226.7" stroke="#111" stroke-width="2" stroke-linecap="butt"/>
<line x1="514" y1="226.7" x2="518" y2="226.7" stroke="#333" stroke-width="1.3" stroke-linecap="butt"/>
<text x="0" y="0" font-size="16.3" text-anchor="end" transform="translate(511 232.5) scale(1.05 1)" fill="#1c1c1c" stroke="#1c1c1c" stroke-width="0.3">0</text>
<line x1="515" y1="214.06" x2="518" y2="214.06" stroke="#333" stroke-width="1.2" stroke-linecap="butt"/>
<line x1="515" y1="201.42" x2="518" y2="201.42" stroke="#333" stroke-width="1.2" stroke-linecap="butt"/>
<line x1="515" y1="188.79" x2="518" y2="188.79" stroke="#333" stroke-width="1.2" stroke-linecap="butt"/>
<line x1="514" y1="176.15" x2="518" y2="176.15" stroke="#333" stroke-width="1.3" stroke-linecap="butt"/>
<text x="0" y="0" font-size="16.3" text-anchor="end" transform="translate(511 181.95) scale(1.05 1)" fill="#1c1c1c" stroke="#1c1c1c" stroke-width="0.3">25</text>
<line x1="515" y1="163.51" x2="518" y2="163.51" stroke="#333" stroke-width="1.2" stroke-linecap="butt"/>
<line x1="515" y1="150.87" x2="518" y2="150.87" stroke="#333" stroke-width="1.2" stroke-linecap="butt"/>
<line x1="515" y1="138.24" x2="518" y2="138.24" stroke="#333" stroke-width="1.2" stroke-linecap="butt"/>
<line x1="514" y1="125.6" x2="518" y2="125.6" stroke="#333" stroke-width="1.3" stroke-linecap="butt"/>
<text x="0" y="0" font-size="16.3" text-anchor="end" transform="translate(511 131.4) scale(1.05 1)" fill="#1c1c1c" stroke="#1c1c1c" stroke-width="0.3">50</text>
<line x1="515" y1="112.96" x2="518" y2="112.96" stroke="#333" stroke-width="1.2" stroke-linecap="butt"/>
<line x1="515" y1="100.32" x2="518" y2="100.32" stroke="#333" stroke-width="1.2" stroke-linecap="butt"/>
<line x1="515" y1="87.69" x2="518" y2="87.69" stroke="#333" stroke-width="1.2" stroke-linecap="butt"/>
<line x1="514" y1="75.05" x2="518" y2="75.05" stroke="#333" stroke-width="1.3" stroke-linecap="butt"/>
<text x="0" y="0" font-size="16.3" text-anchor="end" transform="translate(511 80.85) scale(1.05 1)" fill="#1c1c1c" stroke="#1c1c1c" stroke-width="0.3">75</text>
<line x1="515" y1="62.41" x2="518" y2="62.41" stroke="#333" stroke-width="1.2" stroke-linecap="butt"/>
<line x1="515" y1="49.78" x2="518" y2="49.78" stroke="#333" stroke-width="1.2" stroke-linecap="butt"/>
<line x1="515" y1="37.14" x2="518" y2="37.14" stroke="#333" stroke-width="1.2" stroke-linecap="butt"/>
<line x1="514" y1="24.5" x2="518" y2="24.5" stroke="#333" stroke-width="1.3" stroke-linecap="butt"/>
<text x="0" y="0" font-size="16.3" text-anchor="end" transform="translate(511 30.3) scale(1.05 1)" fill="#1c1c1c" stroke="#1c1c1c" stroke-width="0.3">100</text>
<text x="0" y="0" font-size="16.2" text-anchor="end" font-style="italic" transform="translate(697 45.5) scale(1.06 1)" fill="#1c1c1c" stroke="#1c1c1c" stroke-width="0.3">rfc4e-2</text>
<text x="0" y="0" font-size="15.8" text-anchor="start" transform="translate(524.9 246.6) scale(1.04 1)" fill="#1c1c1c" stroke="#1c1c1c" stroke-width="0.3">2C</text>
<text x="0" y="0" font-size="15.8" text-anchor="start" transform="translate(547.6 246.6) scale(1.04 1)" fill="#1c1c1c" stroke="#1c1c1c" stroke-width="0.3">4C</text>
<text x="0" y="0" font-size="15.8" text-anchor="start" transform="translate(582.7 246.6) scale(1.04 1)" fill="#1c1c1c" stroke="#1c1c1c" stroke-width="0.3">8C</text>
<text x="0" y="0" font-size="15.8" text-anchor="start" transform="translate(649.9 246.6) scale(1.04 1)" fill="#1c1c1c" stroke="#1c1c1c" stroke-width="0.3">16C</text>
<polygon points="761.5,227 761.5,227 761.6,227 761.6,188 762,188 762,182.31 762.5,182.31 762.5,178.05 763,178.05 763,172 763.5,172 763.5,166.68 764,166.68 764,159.96 764.5,159.96 764.5,154.85 765,154.85 765,149 765.5,149 765.5,150.04 766,150.04 766,149.9 766.5,149.9 766.5,151.3 767,151.3 767,152 767.5,152 767.5,160.75 768,160.75 768,166.82 768.5,166.82 768.5,175 769,175 769,182.02 769.5,182.02 769.5,186.81 770,186.81 770,195 770.5,195 770.5,198.82 771,198.82 771,199.06 771.5,199.06 771.5,200.87 772,200.87 772,203 772.5,203 772.5,201.36 773,201.36 773,202.29 773.5,202.29 773.5,198.61 774,198.61 774,203.69 774.5,203.69 774.5,202.45 775,202.45 775,202 775.5,202 775.5,201.34 776,201.34 776,201.45 776.5,201.45 776.5,199.74 777,199.74 777,200 777.5,200 777.5,197.03 778,197.03 778,193.05 778.5,193.05 778.5,191.91 779,191.91 779,190 779.5,190 779.5,179.37 780,179.37 780,170.14 780.5,170.14 780.5,159.98 781,159.98 781,149.48 781.5,149.48 781.5,140 782,140 782,135.68 782.5,135.68 782.5,132.99 783,132.99 783,127.68 783.5,127.68 783.5,123.63 784,123.63 784,121.72 784.5,121.72 784.5,117 785,117 785,126.95 785.5,126.95 785.5,138.73 786,138.73 786,150 786.5,150 786.5,165.56 787,165.56 787,179.06 787.5,179.06 787.5,195 788,195 788,199.24 788.5,199.24 788.5,198.42 789,198.42 789,201.61 789.5,201.61 789.5,205.07 790,205.07 790,207 790.5,207 790.5,208.96 791,208.96 791,210.04 791.5,210.04 791.5,211.14 792,211.14 792,212.66 792.5,212.66 792.5,210.07 793,210.07 793,213 793.5,213 793.5,215.6 794,215.6 794,214.17 794.5,214.17 794.5,216.74 795,216.74 795,216 795.5,216 795.5,215.63 796,215.63 796,214.77 796.5,214.77 796.5,215.62 797,215.62 797,214.49 797.5,214.49 797.5,216.4 798,216.4 798,214.58 798.5,214.58 798.5,213.82 799,213.82 799,214.7 799.5,214.7 799.5,212.55 800,212.55 800,214 800.5,214 800.5,215.15 801,215.15 801,212.42 801.5,212.42 801.5,213.42 802,213.42 802,213.46 802.5,213.46 802.5,214.68 803,214.68 803,212.95 803.5,212.95 803.5,212.67 804,212.67 804,213.14 804.5,213.14 804.5,211.63 805,211.63 805,212 805.5,212 805.5,212.01 806,212.01 806,209 806.5,209 806.5,209.5 807,209.5 807,209.5 807.5,209.5 807.5,210.36 808,210.36 808,207.56 808.5,207.56 808.5,209.08 809,209.08 809,206.52 809.5,206.52 809.5,204.38 810,204.38 810,205 810.5,205 810.5,197.98 811,197.98 811,199.09 811.5,199.09 811.5,196.96 812,196.96 812,193.22 812.5,193.22 812.5,188.02 813,188.02 813,185 813.5,185 813.5,175.33 814,175.33 814,166.69 814.5,166.69 814.5,157.51 815,157.51 815,147.58 815.5,147.58 815.5,138.4 816,138.4 816,130 816.5,130 816.5,121.5 817,121.5 817,112.15 817.5,112.15 817.5,104.93 818,104.93 818,95 818.5,95 818.5,85.15 819,85.15 819,77.29 819.5,77.29 819.5,69.44 820,69.44 820,60 820.5,60 820.5,58.26 821,58.26 821,54.41 821.5,54.41 821.5,52.93 822,52.93 822,52.02 822.5,52.02 822.5,49 823,49 823,56.4 823.5,56.4 823.5,62.27 824,62.27 824,70 824.5,70 824.5,82.63 825,82.63 825,94.44 825.5,94.44 825.5,107.85 826,107.85 826,120 826.5,120 826.5,133.69 827,133.69 827,145.18 827.5,145.18 827.5,157.29 828,157.29 828,170 828.5,170 828.5,175.43 829,175.43 829,183.12 829.5,183.12 829.5,187.18 830,187.18 830,195 830.5,195 830.5,197.52 831,197.52 831,203.96 831.5,203.96 831.5,206.2 832,206.2 832,211.42 832.5,211.42 832.5,215.03 833,215.03 833,218 833.5,218 833.5,216.8 834,216.8 834,219.13 834.5,219.13 834.5,219 835,219 835,217.82 835.5,217.82 835.5,220.33 836,220.33 836,220.16 836.5,220.16 836.5,215.97 837,215.97 837,222.62 837.5,222.62 837.5,223.2 838,223.2 838,222 838.5,222 838.5,223.9 839,223.9 839,223.92 839.5,223.92 839.5,221.74 840,221.74 840,221.12 840.5,221.12 840.5,223.8 841,223.8 841,223.52 841.5,223.52 841.5,221.11 842,221.11 842,221.22 842.5,221.22 842.5,221.69 843,221.69 843,221.05 843.5,221.05 843.5,222.19 844,222.19 844,220.97 844.5,220.97 844.5,224.07 845,224.07 845,221.8 845.5,221.8 845.5,222.02 846,222.02 846,221.08 846.5,221.08 846.5,222.37 847,222.37 847,221.71 847.5,221.71 847.5,224.46 848,224.46 848,222.95 848.5,222.95 848.5,224.46 849,224.46 849,222.71 849.5,222.71 849.5,222.86 850,222.86 850,222.24 850.5,222.24 850.5,223.49 851,223.49 851,223.34 851.5,223.34 851.5,224.41 852,224.41 852,225.25 852.5,225.25 852.5,223.18 853,223.18 853,224.2 853.5,224.2 853.5,225.31 854,225.31 854,223.93 854.5,223.93 854.5,223.02 855,223.02 855,224 855.5,224 855.5,224.22 856,224.22 856,221.52 856.5,221.52 856.5,225.25 857,225.25 857,221.55 857.5,221.55 857.5,223.2 858,223.2 858,220.61 858.5,220.61 858.5,222.56 859,222.56 859,224.47 859.5,224.47 859.5,223.16 860,223.16 860,224.6 860.5,224.6 860.5,224.9 861,224.9 861,219.31 861.5,219.31 861.5,224 862,224 862,222.95 862.5,222.95 862.5,224.05 863,224.05 863,224.59 863.5,224.59 863.5,223.67 864,223.67 864,221.56 864.5,221.56 864.5,223.99 865,223.99 865,219.26 865.5,219.26 865.5,221.74 866,221.74 866,220.15 866.5,220.15 866.5,223.4 867,223.4 867,224.16 867.5,224.16 867.5,223.62 868,223.62 868,222.44 868.5,222.44 868.5,218.46 869,218.46 869,223.71 869.5,223.71 869.5,220.72 870,220.72 870,220.82 870.5,220.82 870.5,220.89 871,220.89 871,221.24 871.5,221.24 871.5,220.11 872,220.11 872,221.87 872.5,221.87 872.5,223.56 873,223.56 873,220.56 873.5,220.56 873.5,221.85 874,221.85 874,222.87 874.5,222.87 874.5,223.37 875,223.37 875,222 875.5,222 875.5,221.26 876,221.26 876,222.81 876.5,222.81 876.5,218.44 877,218.44 877,221.42 877.5,221.42 877.5,219.94 878,219.94 878,219.85 878.5,219.85 878.5,215.45 879,215.45 879,218.05 879.5,218.05 879.5,217.19 880,217.19 880,218.33 880.5,218.33 880.5,216 881,216 881,216.66 881.5,216.66 881.5,217.89 882,217.89 882,214.9 882.5,214.9 882.5,213.82 883,213.82 883,214.13 883.5,214.13 883.5,214.54 884,214.54 884,212.58 884.5,212.58 884.5,213.84 885,213.84 885,213 885.5,213 885.5,210.66 886,210.66 886,210.84 886.5,210.84 886.5,208.84 887,208.84 887,208.59 887.5,208.59 887.5,206.48 888,206.48 888,208.07 888.5,208.07 888.5,204.55 889,204.55 889,208.57 889.5,208.57 889.5,204.14 890,204.14 890,205 890.5,205 890.5,202.94 891,202.94 891,203.74 891.5,203.74 891.5,199.87 892,199.87 892,203.58 892.5,203.58 892.5,204.24 893,204.24 893,201.01 893.5,201.01 893.5,196.62 894,196.62 894,201 894.5,201 894.5,199.16 895,199.16 895,201.22 895.5,201.22 895.5,197.92 896,197.92 896,199.99 896.5,199.99 896.5,197.39 897,197.39 897,197.5 897.5,197.5 897.5,196.81 898,196.81 898,196.64 898.5,196.64 898.5,195.96 899,195.96 899,195 899.5,195 899.5,196.93 900,196.93 900,196.5 900.5,196.5 900.5,198.53 901,198.53 901,199.62 901.5,199.62 901.5,198.73 902,198.73 902,198.13 902.5,198.13 902.5,197.35 903,197.35 903,201 903.5,201 903.5,203.28 904,203.28 904,204.76 904.5,204.76 904.5,204.29 905,204.29 905,210.42 905.5,210.42 905.5,210.7 906,210.7 906,213 906.5,213 906.5,213.27 907,213.27 907,213.92 907.5,213.92 907.5,216.05 908,216.05 908,213.99 908.5,213.99 908.5,215.69 909,215.69 909,215.89 909.5,215.89 909.5,215.42 910,215.42 910,217.51 910.5,217.51 910.5,219.88 911,219.88 911,220.73 911.5,220.73 911.5,219.9 912,219.9 912,220 912.5,220 912.5,220.75 913,220.75 913,220.91 913.5,220.91 913.5,220.86 914,220.86 914,220.45 914.5,220.45 914.5,221.13 915,221.13 915,222.59 915.5,222.59 915.5,220.53 916,220.53 916,221.99 916.5,221.99 916.5,222.48 917,222.48 917,223.38 917.5,223.38 917.5,221.89 918,221.89 918,225.31 918.5,225.31 918.5,222.51 919,222.51 919,220.56 919.5,220.56 919.5,223.69 920,223.69 920,225 920.5,225 920.5,222.57 921,222.57 921,222.96 921.5,222.96 921.5,223.48 922,223.48 922,226.7 922.5,226.7 922.5,226.17 923,226.17 923,223.83 923.5,223.83 923.5,222.75 924,222.75 924,225.07 924.5,225.07 924.5,227 925,227 925,226.72 925.5,226.72 925.5,224.7 926,224.7 926,222.25 926.5,222.25 926.5,224.67 927,224.67 927,226.7 927.5,226.7 927.5,227 928,227 928,227 928.5,227 928.5,227 929,227 929,224.8 929.5,224.8 929.5,225.55 930,225.55 930,226.97 930.5,226.97 930.5,224.8 931,224.8 931,227 931.5,227 931.5,224.32 932,224.32 932,226.5 932.5,226.5 932,227" fill="#1260ad"/>
<line x1="743.6" y1="23.5" x2="933.2" y2="23.5" stroke="#2a2a2a" stroke-width="1.4" stroke-linecap="butt"/>
<line x1="933.2" y1="23.5" x2="933.2" y2="227" stroke="#2a2a2a" stroke-width="1.4" stroke-linecap="butt"/>
<line x1="747.6" y1="23.5" x2="747.6" y2="227.8" stroke="#3a3a3a" stroke-width="1.5" stroke-linecap="butt"/>
<line x1="743.6" y1="227" x2="933.9" y2="227" stroke="#111" stroke-width="2" stroke-linecap="butt"/>
<line x1="743.6" y1="227" x2="747.6" y2="227" stroke="#333" stroke-width="1.3" stroke-linecap="butt"/>
<text x="0" y="0" font-size="16.3" text-anchor="end" transform="translate(741.1 232.8) scale(1.05 1)" fill="#1c1c1c" stroke="#1c1c1c" stroke-width="0.3">0</text>
<line x1="744.6" y1="214.28" x2="747.6" y2="214.28" stroke="#333" stroke-width="1.2" stroke-linecap="butt"/>
<line x1="744.6" y1="201.56" x2="747.6" y2="201.56" stroke="#333" stroke-width="1.2" stroke-linecap="butt"/>
<line x1="744.6" y1="188.84" x2="747.6" y2="188.84" stroke="#333" stroke-width="1.2" stroke-linecap="butt"/>
<line x1="743.6" y1="176.12" x2="747.6" y2="176.12" stroke="#333" stroke-width="1.3" stroke-linecap="butt"/>
<text x="0" y="0" font-size="16.3" text-anchor="end" transform="translate(741.1 181.93) scale(1.05 1)" fill="#1c1c1c" stroke="#1c1c1c" stroke-width="0.3">26</text>
<line x1="744.6" y1="163.41" x2="747.6" y2="163.41" stroke="#333" stroke-width="1.2" stroke-linecap="butt"/>
<line x1="744.6" y1="150.69" x2="747.6" y2="150.69" stroke="#333" stroke-width="1.2" stroke-linecap="butt"/>
<line x1="744.6" y1="137.97" x2="747.6" y2="137.97" stroke="#333" stroke-width="1.2" stroke-linecap="butt"/>
<line x1="743.6" y1="125.25" x2="747.6" y2="125.25" stroke="#333" stroke-width="1.3" stroke-linecap="butt"/>
<text x="0" y="0" font-size="16.3" text-anchor="end" transform="translate(741.1 131.05) scale(1.05 1)" fill="#1c1c1c" stroke="#1c1c1c" stroke-width="0.3">53</text>
<line x1="744.6" y1="112.53" x2="747.6" y2="112.53" stroke="#333" stroke-width="1.2" stroke-linecap="butt"/>
<line x1="744.6" y1="99.81" x2="747.6" y2="99.81" stroke="#333" stroke-width="1.2" stroke-linecap="butt"/>
<line x1="744.6" y1="87.09" x2="747.6" y2="87.09" stroke="#333" stroke-width="1.2" stroke-linecap="butt"/>
<line x1="743.6" y1="74.38" x2="747.6" y2="74.38" stroke="#333" stroke-width="1.3" stroke-linecap="butt"/>
<text x="0" y="0" font-size="16.3" text-anchor="end" transform="translate(741.1 80.17) scale(1.05 1)" fill="#1c1c1c" stroke="#1c1c1c" stroke-width="0.3">79</text>
<line x1="744.6" y1="61.66" x2="747.6" y2="61.66" stroke="#333" stroke-width="1.2" stroke-linecap="butt"/>
<line x1="744.6" y1="48.94" x2="747.6" y2="48.94" stroke="#333" stroke-width="1.2" stroke-linecap="butt"/>
<line x1="744.6" y1="36.22" x2="747.6" y2="36.22" stroke="#333" stroke-width="1.2" stroke-linecap="butt"/>
<line x1="743.6" y1="23.5" x2="747.6" y2="23.5" stroke="#333" stroke-width="1.3" stroke-linecap="butt"/>
<text x="0" y="0" font-size="16.3" text-anchor="end" transform="translate(741.1 29.3) scale(1.05 1)" fill="#1c1c1c" stroke="#1c1c1c" stroke-width="0.3">105</text>
<text x="0" y="0" font-size="16.2" text-anchor="end" font-style="italic" transform="translate(927.7 44.5) scale(1.06 1)" fill="#1c1c1c" stroke="#1c1c1c" stroke-width="0.3">rfc4e-3</text>
<text x="0" y="0" font-size="15.8" text-anchor="start" transform="translate(754.2 246.6) scale(1.04 1)" fill="#1c1c1c" stroke="#1c1c1c" stroke-width="0.3">2C</text>
<text x="0" y="0" font-size="15.8" text-anchor="start" transform="translate(781.1 246.6) scale(1.04 1)" fill="#1c1c1c" stroke="#1c1c1c" stroke-width="0.3">4C</text>
<text x="0" y="0" font-size="15.8" text-anchor="start" transform="translate(812.7 246.6) scale(1.04 1)" fill="#1c1c1c" stroke="#1c1c1c" stroke-width="0.3">8C</text>
<text x="0" y="0" font-size="15.8" text-anchor="start" transform="translate(882.9 246.6) scale(1.04 1)" fill="#1c1c1c" stroke="#1c1c1c" stroke-width="0.3">16C</text>
<text x="14.5" y="280.3" font-size="24.5" text-anchor="start" fill="#1c1c1c" stroke="#1c1c1c" stroke-width="0.3">B</text>
<text x="0" y="0" font-size="17" text-anchor="middle" transform="translate(39 392) rotate(-90)" fill="#1c1c1c" stroke="#1c1c1c" stroke-width="0.3">The ratio of nuclei with</text>
<text x="0" y="0" font-size="17" text-anchor="middle" transform="translate(58.3 387.3) rotate(-90)" fill="#1c1c1c" stroke="#1c1c1c" stroke-width="0.3">different DNA ploides (%)</text>
<rect x="123" y="434.76" width="31.2" height="53.24" fill="#2aa3df"/>
<rect x="123" y="388.86" width="31.2" height="45.9" fill="#fb6b6d"/>
<rect x="123" y="296.04" width="31.2" height="92.82" fill="#f8a05c"/>
<rect x="123" y="284" width="31.2" height="12.04" fill="#3dc6be"/>
<rect x="163.6" y="462.09" width="31.2" height="25.91" fill="#2aa3df"/>
<rect x="163.6" y="408.03" width="31.2" height="54.06" fill="#fb6b6d"/>
<rect x="163.6" y="309.91" width="31.2" height="98.12" fill="#f8a05c"/>
<rect x="163.6" y="284" width="31.2" height="25.91" fill="#3dc6be"/>
<rect x="204.2" y="462.09" width="31.2" height="25.91" fill="#2aa3df"/>
<rect x="204.2" y="412.52" width="31.2" height="49.57" fill="#fb6b6d"/>
<rect x="204.2" y="309.5" width="31.2" height="103.02" fill="#f8a05c"/>
<rect x="204.2" y="284" width="31.2" height="25.5" fill="#3dc6be"/>
<rect x="244.8" y="459.44" width="31.2" height="28.56" fill="#2aa3df"/>
<rect x="244.8" y="418.64" width="31.2" height="40.8" fill="#fb6b6d"/>
<rect x="244.8" y="315.42" width="31.2" height="103.22" fill="#f8a05c"/>
<rect x="244.8" y="284" width="31.2" height="31.42" fill="#3dc6be"/>
<rect x="111" y="284" width="176" height="204" fill="none" stroke="#000" stroke-width="3"/>
<line x1="103" y1="488" x2="111" y2="488" stroke="#000" stroke-width="2.6" stroke-linecap="butt"/>
<text x="98.5" y="493.8" font-size="16.4" text-anchor="end" fill="#1c1c1c" stroke="#1c1c1c" stroke-width="0.3">0</text>
<line x1="103" y1="447.2" x2="111" y2="447.2" stroke="#000" stroke-width="2.6" stroke-linecap="butt"/>
<text x="98.5" y="453" font-size="16.4" text-anchor="end" fill="#1c1c1c" stroke="#1c1c1c" stroke-width="0.3">20</text>
<line x1="103" y1="406.4" x2="111" y2="406.4" stroke="#000" stroke-width="2.6" stroke-linecap="butt"/>
<text x="98.5" y="412.2" font-size="16.4" text-anchor="end" fill="#1c1c1c" stroke="#1c1c1c" stroke-width="0.3">40</text>
<line x1="103" y1="365.6" x2="111" y2="365.6" stroke="#000" stroke-width="2.6" stroke-linecap="butt"/>
<text x="98.5" y="371.4" font-size="16.4" text-anchor="end" fill="#1c1c1c" stroke="#1c1c1c" stroke-width="0.3">60</text>
<line x1="103" y1="324.8" x2="111" y2="324.8" stroke="#000" stroke-width="2.6" stroke-linecap="butt"/>
<text x="98.5" y="330.6" font-size="16.4" text-anchor="end" fill="#1c1c1c" stroke="#1c1c1c" stroke-width="0.3">80</text>
<line x1="103" y1="284" x2="111" y2="284" stroke="#000" stroke-width="2.6" stroke-linecap="butt"/>
<text x="98.5" y="289.8" font-size="16.4" text-anchor="end" fill="#1c1c1c" stroke="#1c1c1c" stroke-width="0.3">100</text>
<line x1="138.6" y1="488" x2="138.6" y2="496" stroke="#000" stroke-width="2.6" stroke-linecap="butt"/>
<line x1="179.2" y1="488" x2="179.2" y2="496" stroke="#000" stroke-width="2.6" stroke-linecap="butt"/>
<line x1="219.8" y1="488" x2="219.8" y2="496" stroke="#000" stroke-width="2.6" stroke-linecap="butt"/>
<line x1="260.4" y1="488" x2="260.4" y2="496" stroke="#000" stroke-width="2.6" stroke-linecap="butt"/>
<text x="0" y="0" font-size="16.4" text-anchor="end" transform="translate(145.1 509.5) rotate(-45)" fill="#1c1c1c" stroke="#1c1c1c" stroke-width="0.3">Col-0</text>
<text x="0" y="0" font-size="16.4" text-anchor="end" transform="translate(185.7 509.5) rotate(-45)" fill="#1c1c1c" stroke="#1c1c1c" stroke-width="0.3">rfc4e-1</text>
<text x="0" y="0" font-size="16.4" text-anchor="end" transform="translate(226.3 509.5) rotate(-45)" fill="#1c1c1c" stroke="#1c1c1c" stroke-width="0.3">rfc4e-2</text>
<text x="0" y="0" font-size="16.4" text-anchor="end" transform="translate(266.9 509.5) rotate(-45)" fill="#1c1c1c" stroke="#1c1c1c" stroke-width="0.3">rfc4e-3</text>
<rect x="295.2" y="287" width="16.3" height="9.5" fill="#2aa3df"/>
<text x="315.6" y="297" font-size="16.4" text-anchor="start" fill="#1c1c1c" stroke="#1c1c1c" stroke-width="0.3">2C</text>
<rect x="295.2" y="307.7" width="16.3" height="9.5" fill="#fb6b6d"/>
<text x="315.6" y="317.7" font-size="16.4" text-anchor="start" fill="#1c1c1c" stroke="#1c1c1c" stroke-width="0.3">4C</text>
<rect x="295.2" y="328.4" width="16.3" height="9.5" fill="#f8a05c"/>
<text x="315.6" y="338.4" font-size="16.4" text-anchor="start" fill="#1c1c1c" stroke="#1c1c1c" stroke-width="0.3">8C</text>
<rect x="295.2" y="349.1" width="16.3" height="9.5" fill="#3dc6be"/>
<text x="315.6" y="359.1" font-size="16.4" text-anchor="start" fill="#1c1c1c" stroke="#1c1c1c" stroke-width="0.3">16C</text>
<text x="337.3" y="280.3" font-size="24.5" text-anchor="start" fill="#1c1c1c" stroke="#1c1c1c" stroke-width="0.3">C</text>
<text x="0" y="0" font-size="16" text-anchor="start" transform="translate(392.5 531) rotate(-90)" fill="#1c1c1c" stroke="#1c1c1c" stroke-width="0.3">The ratio of 8C/2C and 16C/2C</text>
<text x="0" y="0" font-size="16" text-anchor="end" transform="translate(392.5 279.6) rotate(-90)" fill="#1c1c1c" stroke="#1c1c1c" stroke-width="0.3">(%)</text>
<rect x="433.3" y="429.85" width="23.5" height="76.15" fill="#2aa3df"/>
<rect x="462.3" y="334.16" width="23.5" height="171.84" fill="#fb6b6d"/>
<rect x="491.3" y="343.53" width="23.5" height="162.47" fill="#f8a05c"/>
<rect x="520.3" y="358.19" width="23.5" height="147.81" fill="#3dc6be"/>
<rect x="568" y="491.75" width="23.5" height="14.25" fill="#2aa3df"/>
<rect x="597" y="455.71" width="23.5" height="50.29" fill="#fb6b6d"/>
<rect x="626" y="457.95" width="23.5" height="48.05" fill="#f8a05c"/>
<rect x="655" y="452.25" width="23.5" height="53.75" fill="#3dc6be"/>
<line x1="445.05" y1="429.02" x2="445.05" y2="435.17" stroke="#000" stroke-width="3" stroke-linecap="butt"/>
<line x1="440.45" y1="429.32" x2="449.65" y2="429.32" stroke="#000" stroke-width="3" stroke-linecap="butt"/>
<line x1="440.45" y1="434.87" x2="449.65" y2="434.87" stroke="#000" stroke-width="3" stroke-linecap="butt"/>
<line x1="474.05" y1="331.7" x2="474.05" y2="340.29" stroke="#000" stroke-width="3" stroke-linecap="butt"/>
<line x1="469.45" y1="332" x2="478.65" y2="332" stroke="#000" stroke-width="3" stroke-linecap="butt"/>
<line x1="469.45" y1="339.99" x2="478.65" y2="339.99" stroke="#000" stroke-width="3" stroke-linecap="butt"/>
<line x1="503.05" y1="328.85" x2="503.05" y2="361.87" stroke="#000" stroke-width="3" stroke-linecap="butt"/>
<line x1="498.45" y1="329.15" x2="507.65" y2="329.15" stroke="#000" stroke-width="3" stroke-linecap="butt"/>
<line x1="498.45" y1="361.57" x2="507.65" y2="361.57" stroke="#000" stroke-width="3" stroke-linecap="butt"/>
<line x1="532.05" y1="350.43" x2="532.05" y2="370.83" stroke="#000" stroke-width="3" stroke-linecap="butt"/>
<line x1="527.45" y1="350.73" x2="536.65" y2="350.73" stroke="#000" stroke-width="3" stroke-linecap="butt"/>
<line x1="527.45" y1="370.53" x2="536.65" y2="370.53" stroke="#000" stroke-width="3" stroke-linecap="butt"/>
<line x1="579.75" y1="486.43" x2="579.75" y2="501.14" stroke="#000" stroke-width="3" stroke-linecap="butt"/>
<line x1="575.15" y1="486.73" x2="584.35" y2="486.73" stroke="#000" stroke-width="3" stroke-linecap="butt"/>
<line x1="575.15" y1="500.84" x2="584.35" y2="500.84" stroke="#000" stroke-width="3" stroke-linecap="butt"/>
<line x1="608.75" y1="454.67" x2="608.75" y2="460.42" stroke="#000" stroke-width="3" stroke-linecap="butt"/>
<line x1="604.15" y1="454.97" x2="613.35" y2="454.97" stroke="#000" stroke-width="3" stroke-linecap="butt"/>
<line x1="604.15" y1="460.12" x2="613.35" y2="460.12" stroke="#000" stroke-width="3" stroke-linecap="butt"/>
<line x1="637.75" y1="449.38" x2="637.75" y2="469.78" stroke="#000" stroke-width="3" stroke-linecap="butt"/>
<line x1="633.15" y1="449.68" x2="642.35" y2="449.68" stroke="#000" stroke-width="3" stroke-linecap="butt"/>
<line x1="633.15" y1="469.48" x2="642.35" y2="469.48" stroke="#000" stroke-width="3" stroke-linecap="butt"/>
<rect x="662.15" y="451.44" width="9.2" height="4.89" fill="#000"/>
<line x1="425.4" y1="301.2" x2="425.4" y2="507.2" stroke="#000" stroke-width="2.6" stroke-linecap="butt"/>
<line x1="424.2" y1="506" x2="686.4" y2="506" stroke="#000" stroke-width="2.6" stroke-linecap="butt"/>
<line x1="417.2" y1="506" x2="425.4" y2="506" stroke="#000" stroke-width="2.6" stroke-linecap="butt"/>
<text x="414.5" y="511.8" font-size="16.4" text-anchor="end" fill="#1c1c1c" stroke="#1c1c1c" stroke-width="0.3">0</text>
<line x1="417.2" y1="465.28" x2="425.4" y2="465.28" stroke="#000" stroke-width="2.6" stroke-linecap="butt"/>
<text x="414.5" y="471.08" font-size="16.4" text-anchor="end" fill="#1c1c1c" stroke="#1c1c1c" stroke-width="0.3">1</text>
<line x1="417.2" y1="424.56" x2="425.4" y2="424.56" stroke="#000" stroke-width="2.6" stroke-linecap="butt"/>
<text x="414.5" y="430.36" font-size="16.4" text-anchor="end" fill="#1c1c1c" stroke="#1c1c1c" stroke-width="0.3">2</text>
<line x1="417.2" y1="383.84" x2="425.4" y2="383.84" stroke="#000" stroke-width="2.6" stroke-linecap="butt"/>
<text x="414.5" y="389.64" font-size="16.4" text-anchor="end" fill="#1c1c1c" stroke="#1c1c1c" stroke-width="0.3">3</text>
<line x1="417.2" y1="343.12" x2="425.4" y2="343.12" stroke="#000" stroke-width="2.6" stroke-linecap="butt"/>
<text x="414.5" y="348.92" font-size="16.4" text-anchor="end" fill="#1c1c1c" stroke="#1c1c1c" stroke-width="0.3">4</text>
<line x1="417.2" y1="302.4" x2="425.4" y2="302.4" stroke="#000" stroke-width="2.6" stroke-linecap="butt"/>
<text x="414.5" y="308.2" font-size="16.4" text-anchor="end" fill="#1c1c1c" stroke="#1c1c1c" stroke-width="0.3">5</text>
<line x1="487.9" y1="506" x2="487.9" y2="514" stroke="#000" stroke-width="2.6" stroke-linecap="butt"/>
<text x="487.9" y="532.8" font-size="16.4" text-anchor="middle" fill="#1c1c1c" stroke="#1c1c1c" stroke-width="0.3">8C/2C</text>
<line x1="622" y1="506" x2="622" y2="514" stroke="#000" stroke-width="2.6" stroke-linecap="butt"/>
<text x="622" y="532.8" font-size="16.4" text-anchor="middle" fill="#1c1c1c" stroke="#1c1c1c" stroke-width="0.3">16C/2C</text>
<polyline points="444,322.2 444,318.2 474.5,318.2 474.5,322.2" fill="none" stroke="#2a1f18" stroke-width="1.9"/>
<polygon points="459.05,310.4 459.84,312.41 462,312.54 460.33,313.92 460.87,316.01 459.05,314.85 457.23,316.01 457.77,313.92 456.1,312.54 458.26,312.41" fill="#2b2b2b"/>
<polygon points="465.45,310.4 466.24,312.41 468.4,312.54 466.73,313.92 467.27,316.01 465.45,314.85 463.63,316.01 464.17,313.92 462.5,312.54 464.66,312.41" fill="#2b2b2b"/>
<polyline points="444,308.2 444,304.2 502.3,304.2 502.3,308.2" fill="none" stroke="#2a1f18" stroke-width="1.9"/>
<polygon points="473.15,296.4 473.94,298.41 476.1,298.54 474.43,299.92 474.97,302.01 473.15,300.85 471.33,302.01 471.87,299.92 470.2,298.54 472.36,298.41" fill="#2b2b2b"/>
<polygon points="479.55,296.4 480.34,298.41 482.5,298.54 480.83,299.92 481.37,302.01 479.55,300.85 477.73,302.01 478.27,299.92 476.6,298.54 478.76,298.41" fill="#2b2b2b"/>
<polyline points="444,295.1 444,291.1 530.8,291.1 530.8,295.1" fill="none" stroke="#2a1f18" stroke-width="1.9"/>
<polygon points="486.4,283.3 487.19,285.31 489.35,285.44 487.68,286.82 488.22,288.91 486.4,287.75 484.58,288.91 485.12,286.82 483.45,285.44 485.61,285.31" fill="#2b2b2b"/>
<polygon points="492.8,283.3 493.59,285.31 495.75,285.44 494.08,286.82 494.62,288.91 492.8,287.75 490.98,288.91 491.52,286.82 489.85,285.44 492.01,285.31" fill="#2b2b2b"/>
<polyline points="579.8,446.3 579.8,442.3 609.4,442.3 609.4,446.3" fill="none" stroke="#2a1f18" stroke-width="1.9"/>
<polygon points="593.6,434.5 594.39,436.51 596.55,436.64 594.88,438.02 595.42,440.11 593.6,438.95 591.78,440.11 592.32,438.02 590.65,436.64 592.81,436.51" fill="#2b2b2b"/>
<polygon points="600,434.5 600.79,436.51 602.95,436.64 601.28,438.02 601.82,440.11 600,438.95 598.18,440.11 598.72,438.02 597.05,436.64 599.21,436.51" fill="#2b2b2b"/>
<polyline points="579.8,430.4 579.8,426.4 637.3,426.4 637.3,430.4" fill="none" stroke="#2a1f18" stroke-width="1.9"/>
<polygon points="606.25,418.6 607.04,420.61 609.2,420.74 607.53,422.12 608.07,424.21 606.25,423.05 604.43,424.21 604.97,422.12 603.3,420.74 605.46,420.61" fill="#2b2b2b"/>
<polygon points="612.65,418.6 613.44,420.61 615.6,420.74 613.93,422.12 614.47,424.21 612.65,423.05 610.83,424.21 611.37,422.12 609.7,420.74 611.86,420.61" fill="#2b2b2b"/>
<polyline points="579.8,417.1 579.8,413.1 666.9,413.1 666.9,417.1" fill="none" stroke="#2a1f18" stroke-width="1.9"/>
<polygon points="619.95,405.3 620.74,407.31 622.9,407.44 621.23,408.82 621.77,410.91 619.95,409.75 618.13,410.91 618.67,408.82 617,407.44 619.16,407.31" fill="#2b2b2b"/>
<polygon points="626.35,405.3 627.14,407.31 629.3,407.44 627.63,408.82 628.17,410.91 626.35,409.75 624.53,410.91 625.07,408.82 623.4,407.44 625.56,407.31" fill="#2b2b2b"/>
<rect x="590.4" y="286.9" width="23.4" height="12.2" fill="#2aa3df"/>
<text x="622.2" y="299.4" font-size="16.4" text-anchor="start" fill="#1c1c1c" stroke="#1c1c1c" stroke-width="0.3">Col-0</text>
<rect x="590.4" y="304.4" width="23.4" height="12.2" fill="#fb6b6d"/>
<text x="622.2" y="316.9" font-size="16.4" text-anchor="start" font-style="italic" fill="#1c1c1c" stroke="#1c1c1c" stroke-width="0.3">rfc4e-1</text>
<rect x="590.4" y="321.9" width="23.4" height="12.2" fill="#f8a05c"/>
<text x="622.2" y="334.4" font-size="16.4" text-anchor="start" font-style="italic" fill="#1c1c1c" stroke="#1c1c1c" stroke-width="0.3">rfc4e-2</text>
<rect x="590.4" y="339.4" width="23.4" height="12.2" fill="#3dc6be"/>
<text x="622.2" y="351.9" font-size="16.4" text-anchor="start" font-style="italic" fill="#1c1c1c" stroke="#1c1c1c" stroke-width="0.3">rfc4e-3</text>
<text x="686.5" y="278.8" font-size="24.5" text-anchor="start" fill="#1c1c1c" stroke="#1c1c1c" stroke-width="0.3">D</text>
<text x="0" y="0" font-size="16.4" text-anchor="middle" transform="translate(720.5 388) rotate(-90)" fill="#1c1c1c" stroke="#1c1c1c" stroke-width="0.3">Endoduplication index</text>
<line x1="794" y1="364.8" x2="794" y2="440.4" stroke="#2aa3df" stroke-width="2.9" stroke-linecap="butt"/>
<line x1="787.7" y1="364.8" x2="800.3" y2="364.8" stroke="#2aa3df" stroke-width="2.9" stroke-linecap="butt"/>
<line x1="787.7" y1="440.4" x2="800.3" y2="440.4" stroke="#2aa3df" stroke-width="2.9" stroke-linecap="butt"/>
<line x1="781" y1="402.8" x2="806.8" y2="402.8" stroke="#2aa3df" stroke-width="2.9" stroke-linecap="butt"/>
<circle cx="794" cy="375.9" r="5.9" fill="#2aa3df"/>
<circle cx="794" cy="429.3" r="5.9" fill="#2aa3df"/>
<rect x="821.3" y="326.8" width="12" height="11.5" fill="#fb6b6d"/>
<rect x="835.4" y="316.6" width="11.6" height="11.4" fill="#fb6b6d"/>
<line x1="834" y1="321" x2="834" y2="334.6" stroke="#fb6b6d" stroke-width="2.8" stroke-linecap="butt"/>
<line x1="828" y1="321" x2="841" y2="321" stroke="#fb6b6d" stroke-width="2.8" stroke-linecap="butt"/>
<line x1="828" y1="334.6" x2="841" y2="334.6" stroke="#fb6b6d" stroke-width="2.8" stroke-linecap="butt"/>
<line x1="821" y1="327.5" x2="847.5" y2="327.5" stroke="#fb6b6d" stroke-width="2.8" stroke-linecap="butt"/>
<rect x="831" y="321" width="6" height="12" fill="#fb6b6d"/>
<polygon points="875.6,321 887.5,321 881.5,311.2" fill="#f8a05c"/>
<polygon points="862.6,337.7 873.4,337.7 868,326.8" fill="#f8a05c"/>
<line x1="875" y1="310.8" x2="875" y2="336.2" stroke="#f8a05c" stroke-width="2.8" stroke-linecap="butt"/>
<line x1="869" y1="310.8" x2="881.4" y2="310.8" stroke="#f8a05c" stroke-width="2.8" stroke-linecap="butt"/>
<line x1="869" y1="336.2" x2="881.4" y2="336.2" stroke="#f8a05c" stroke-width="2.8" stroke-linecap="butt"/>
<line x1="861.5" y1="323.1" x2="888.6" y2="323.1" stroke="#f8a05c" stroke-width="2.8" stroke-linecap="butt"/>
<polygon points="902.8,306.4 914.5,306.4 908.6,317.9" fill="#3dc6be"/>
<polygon points="916,304.1 927.8,304.1 922,315.3" fill="#3dc6be"/>
<line x1="902" y1="311.3" x2="928.5" y2="311.3" stroke="#3dc6be" stroke-width="2.6" stroke-linecap="butt"/>
<rect x="910" y="307.5" width="11.5" height="7.5" fill="#3dc6be"/>
<line x1="767" y1="285" x2="767" y2="491.4" stroke="#000" stroke-width="2.6" stroke-linecap="butt"/>
<line x1="765.8" y1="490.2" x2="945" y2="490.2" stroke="#000" stroke-width="2.6" stroke-linecap="butt"/>
<line x1="758.4" y1="490.2" x2="767" y2="490.2" stroke="#000" stroke-width="2.6" stroke-linecap="butt"/>
<text x="755.5" y="496" font-size="16.4" text-anchor="end" fill="#1c1c1c" stroke="#1c1c1c" stroke-width="0.3">1.0</text>
<line x1="758.4" y1="439.2" x2="767" y2="439.2" stroke="#000" stroke-width="2.6" stroke-linecap="butt"/>
<text x="755.5" y="445" font-size="16.4" text-anchor="end" fill="#1c1c1c" stroke="#1c1c1c" stroke-width="0.3">1.2</text>
<line x1="758.4" y1="388.2" x2="767" y2="388.2" stroke="#000" stroke-width="2.6" stroke-linecap="butt"/>
<text x="755.5" y="394" font-size="16.4" text-anchor="end" fill="#1c1c1c" stroke="#1c1c1c" stroke-width="0.3">1.4</text>
<line x1="758.4" y1="337.2" x2="767" y2="337.2" stroke="#000" stroke-width="2.6" stroke-linecap="butt"/>
<text x="755.5" y="343" font-size="16.4" text-anchor="end" fill="#1c1c1c" stroke="#1c1c1c" stroke-width="0.3">1.6</text>
<line x1="758.4" y1="286.2" x2="767" y2="286.2" stroke="#000" stroke-width="2.6" stroke-linecap="butt"/>
<text x="755.5" y="292" font-size="16.4" text-anchor="end" fill="#1c1c1c" stroke="#1c1c1c" stroke-width="0.3">1.8</text>
<line x1="798" y1="490.2" x2="798" y2="499.8" stroke="#000" stroke-width="2.6" stroke-linecap="butt"/>
<text x="0" y="0" font-size="16.4" text-anchor="end" transform="translate(805 513) rotate(-45)" fill="#1c1c1c" stroke="#1c1c1c" stroke-width="0.3">Col-0</text>
<line x1="838.7" y1="490.2" x2="838.7" y2="499.8" stroke="#000" stroke-width="2.6" stroke-linecap="butt"/>
<text x="0" y="0" font-size="16.4" text-anchor="end" font-style="italic" transform="translate(845.7 513) rotate(-45)" fill="#1c1c1c" stroke="#1c1c1c" stroke-width="0.3">rfc4e-1</text>
<line x1="878.9" y1="490.2" x2="878.9" y2="499.8" stroke="#000" stroke-width="2.6" stroke-linecap="butt"/>
<text x="0" y="0" font-size="16.4" text-anchor="end" font-style="italic" transform="translate(885.9 513) rotate(-45)" fill="#1c1c1c" stroke="#1c1c1c" stroke-width="0.3">rfc4e-2</text>
<line x1="919" y1="490.2" x2="919" y2="499.8" stroke="#000" stroke-width="2.6" stroke-linecap="butt"/>
<text x="0" y="0" font-size="16.4" text-anchor="end" font-style="italic" transform="translate(926 513) rotate(-45)" fill="#1c1c1c" stroke="#1c1c1c" stroke-width="0.3">rfc4e-3</text>
<text x="13" y="562.3" font-size="24.5" text-anchor="start" fill="#1c1c1c" stroke="#1c1c1c" stroke-width="0.3">E</text>
<rect x="73.7" y="722" width="19.6" height="32.5" fill="#2aa3df"/>
<rect x="104.8" y="629.8" width="19.6" height="124.7" fill="#fb6b6d"/>
<rect x="135.4" y="665.9" width="19.6" height="88.6" fill="#f8a05c"/>
<rect x="166.4" y="677.1" width="19.6" height="77.4" fill="#3dc6be"/>
<line x1="83.5" y1="721" x2="83.5" y2="726" stroke="#000" stroke-width="3" stroke-linecap="butt"/>
<line x1="79.5" y1="721.3" x2="87.5" y2="721.3" stroke="#000" stroke-width="3" stroke-linecap="butt"/>
<line x1="79.5" y1="725.7" x2="87.5" y2="725.7" stroke="#000" stroke-width="3" stroke-linecap="butt"/>
<line x1="114.6" y1="628.1" x2="114.6" y2="635.8" stroke="#000" stroke-width="3" stroke-linecap="butt"/>
<line x1="110.6" y1="628.4" x2="118.6" y2="628.4" stroke="#000" stroke-width="3" stroke-linecap="butt"/>
<line x1="110.6" y1="635.5" x2="118.6" y2="635.5" stroke="#000" stroke-width="3" stroke-linecap="butt"/>
<line x1="145.2" y1="662.4" x2="145.2" y2="672.5" stroke="#000" stroke-width="3" stroke-linecap="butt"/>
<line x1="141.2" y1="662.7" x2="149.2" y2="662.7" stroke="#000" stroke-width="3" stroke-linecap="butt"/>
<line x1="141.2" y1="672.2" x2="149.2" y2="672.2" stroke="#000" stroke-width="3" stroke-linecap="butt"/>
<line x1="176.2" y1="671.9" x2="176.2" y2="686.9" stroke="#000" stroke-width="3" stroke-linecap="butt"/>
<line x1="172.2" y1="672.2" x2="180.2" y2="672.2" stroke="#000" stroke-width="3" stroke-linecap="butt"/>
<line x1="172.2" y1="686.6" x2="180.2" y2="686.6" stroke="#000" stroke-width="3" stroke-linecap="butt"/>
<line x1="67.6" y1="598.8" x2="67.6" y2="755.7" stroke="#000" stroke-width="2.7" stroke-linecap="butt"/>
<line x1="66.4" y1="754.5" x2="192.5" y2="754.5" stroke="#000" stroke-width="2.7" stroke-linecap="butt"/>
<line x1="60.1" y1="754.5" x2="67.6" y2="754.5" stroke="#000" stroke-width="2.6" stroke-linecap="butt"/>
<text x="56.6" y="760.3" font-size="16.4" text-anchor="end" fill="#1c1c1c" stroke="#1c1c1c" stroke-width="0.3">0</text>
<line x1="60.1" y1="723.6" x2="67.6" y2="723.6" stroke="#000" stroke-width="2.6" stroke-linecap="butt"/>
<text x="56.6" y="729.4" font-size="16.4" text-anchor="end" fill="#1c1c1c" stroke="#1c1c1c" stroke-width="0.3">1</text>
<line x1="60.1" y1="692.7" x2="67.6" y2="692.7" stroke="#000" stroke-width="2.6" stroke-linecap="butt"/>
<text x="56.6" y="698.5" font-size="16.4" text-anchor="end" fill="#1c1c1c" stroke="#1c1c1c" stroke-width="0.3">2</text>
<line x1="60.1" y1="661.8" x2="67.6" y2="661.8" stroke="#000" stroke-width="2.6" stroke-linecap="butt"/>
<text x="56.6" y="667.6" font-size="16.4" text-anchor="end" fill="#1c1c1c" stroke="#1c1c1c" stroke-width="0.3">3</text>
<line x1="60.1" y1="630.9" x2="67.6" y2="630.9" stroke="#000" stroke-width="2.6" stroke-linecap="butt"/>
<text x="56.6" y="636.7" font-size="16.4" text-anchor="end" fill="#1c1c1c" stroke="#1c1c1c" stroke-width="0.3">4</text>
<line x1="60.1" y1="600" x2="67.6" y2="600" stroke="#000" stroke-width="2.6" stroke-linecap="butt"/>
<text x="56.6" y="605.8" font-size="16.4" text-anchor="end" fill="#1c1c1c" stroke="#1c1c1c" stroke-width="0.3">5</text>
<line x1="83.5" y1="754.5" x2="83.5" y2="763" stroke="#000" stroke-width="2.6" stroke-linecap="butt"/>
<text x="0" y="0" font-size="16.4" text-anchor="end" transform="translate(88.5 777.5) rotate(-45)" fill="#1c1c1c" stroke="#1c1c1c" stroke-width="0.3">Col-0</text>
<line x1="114.6" y1="754.5" x2="114.6" y2="763" stroke="#000" stroke-width="2.6" stroke-linecap="butt"/>
<text x="0" y="0" font-size="16.4" text-anchor="end" font-style="italic" transform="translate(119.6 777.5) rotate(-45)" fill="#1c1c1c" stroke="#1c1c1c" stroke-width="0.3">rfc4e-1</text>
<line x1="145.2" y1="754.5" x2="145.2" y2="763" stroke="#000" stroke-width="2.6" stroke-linecap="butt"/>
<text x="0" y="0" font-size="16.4" text-anchor="end" font-style="italic" transform="translate(150.2 777.5) rotate(-45)" fill="#1c1c1c" stroke="#1c1c1c" stroke-width="0.3">rfc4e-2</text>
<line x1="176.2" y1="754.5" x2="176.2" y2="763" stroke="#000" stroke-width="2.6" stroke-linecap="butt"/>
<text x="0" y="0" font-size="16.4" text-anchor="end" font-style="italic" transform="translate(181.2 777.5) rotate(-45)" fill="#1c1c1c" stroke="#1c1c1c" stroke-width="0.3">rfc4e-3</text>
<polyline points="83.2,623.3 83.2,619.3 113.7,619.3 113.7,623.3" fill="none" stroke="#2a1f18" stroke-width="1.9"/>
<polygon points="97.25,611.5 98.04,613.51 100.2,613.64 98.53,615.02 99.07,617.11 97.25,615.95 95.43,617.11 95.97,615.02 94.3,613.64 96.46,613.51" fill="#2b2b2b"/>
<polygon points="103.65,611.5 104.44,613.51 106.6,613.64 104.93,615.02 105.47,617.11 103.65,615.95 101.83,617.11 102.37,615.02 100.7,613.64 102.86,613.51" fill="#2b2b2b"/>
<polyline points="83.2,613.1 83.2,609.1 145.3,609.1 145.3,613.1" fill="none" stroke="#2a1f18" stroke-width="1.9"/>
<polygon points="111.55,601.3 112.34,603.31 114.5,603.44 112.83,604.82 113.37,606.91 111.55,605.75 109.73,606.91 110.27,604.82 108.6,603.44 110.76,603.31" fill="#2b2b2b"/>
<polygon points="117.95,601.3 118.74,603.31 120.9,603.44 119.23,604.82 119.77,606.91 117.95,605.75 116.13,606.91 116.67,604.82 115,603.44 117.16,603.31" fill="#2b2b2b"/>
<polyline points="83.2,602.6 83.2,598.6 175.1,598.6 175.1,602.6" fill="none" stroke="#2a1f18" stroke-width="1.9"/>
<polygon points="123.45,590.8 124.24,592.81 126.4,592.94 124.73,594.32 125.27,596.41 123.45,595.25 121.63,596.41 122.17,594.32 120.5,592.94 122.66,592.81" fill="#2b2b2b"/>
<polygon points="129.85,590.8 130.64,592.81 132.8,592.94 131.13,594.32 131.67,596.41 129.85,595.25 128.03,596.41 128.57,594.32 126.9,592.94 129.06,592.81" fill="#2b2b2b"/>
<text x="106" y="586.2" font-size="16.4" text-anchor="start" font-style="italic" fill="#1c1c1c" stroke="#1c1c1c" stroke-width="0.3">SMR4</text>
<text x="0" y="0" font-size="16.4" text-anchor="middle" transform="translate(34.8 679.6) rotate(-90)" fill="#1c1c1c" stroke="#1c1c1c" stroke-width="0.3">Relative expression level</text>
<rect x="260" y="743.7" width="19.4" height="11.8" fill="#2aa3df"/>
<rect x="290.8" y="659" width="19.4" height="96.5" fill="#fb6b6d"/>
<rect x="321.2" y="695.4" width="19.4" height="60.1" fill="#f8a05c"/>
<rect x="352" y="688.8" width="19.4" height="66.7" fill="#3dc6be"/>
<line x1="269.7" y1="743.6" x2="269.7" y2="747.5" stroke="#000" stroke-width="3" stroke-linecap="butt"/>
<line x1="265.7" y1="743.9" x2="273.7" y2="743.9" stroke="#000" stroke-width="3" stroke-linecap="butt"/>
<line x1="265.7" y1="747.2" x2="273.7" y2="747.2" stroke="#000" stroke-width="3" stroke-linecap="butt"/>
<line x1="300.5" y1="655.6" x2="300.5" y2="666.4" stroke="#000" stroke-width="3" stroke-linecap="butt"/>
<line x1="296.5" y1="655.9" x2="304.5" y2="655.9" stroke="#000" stroke-width="3" stroke-linecap="butt"/>
<line x1="296.5" y1="666.1" x2="304.5" y2="666.1" stroke="#000" stroke-width="3" stroke-linecap="butt"/>
<rect x="326.9" y="694.8" width="8" height="5" fill="#000"/>
<line x1="361.7" y1="687.1" x2="361.7" y2="695.5" stroke="#000" stroke-width="3" stroke-linecap="butt"/>
<line x1="357.7" y1="687.4" x2="365.7" y2="687.4" stroke="#000" stroke-width="3" stroke-linecap="butt"/>
<line x1="357.7" y1="695.2" x2="365.7" y2="695.2" stroke="#000" stroke-width="3" stroke-linecap="butt"/>
<line x1="254.2" y1="598.4" x2="254.2" y2="756.7" stroke="#000" stroke-width="2.7" stroke-linecap="butt"/>
<line x1="253" y1="755.5" x2="378.4" y2="755.5" stroke="#000" stroke-width="2.7" stroke-linecap="butt"/>
<line x1="246.7" y1="755.5" x2="254.2" y2="755.5" stroke="#000" stroke-width="2.6" stroke-linecap="butt"/>
<text x="243.2" y="761.3" font-size="16.4" text-anchor="end" fill="#1c1c1c" stroke="#1c1c1c" stroke-width="0.3">0</text>
<line x1="246.7" y1="703.5" x2="254.2" y2="703.5" stroke="#000" stroke-width="2.6" stroke-linecap="butt"/>
<text x="243.2" y="709.3" font-size="16.4" text-anchor="end" fill="#1c1c1c" stroke="#1c1c1c" stroke-width="0.3">5</text>
<line x1="246.7" y1="651.6" x2="254.2" y2="651.6" stroke="#000" stroke-width="2.6" stroke-linecap="butt"/>
<text x="243.2" y="657.4" font-size="16.4" text-anchor="end" fill="#1c1c1c" stroke="#1c1c1c" stroke-width="0.3">10</text>
<line x1="246.7" y1="599.6" x2="254.2" y2="599.6" stroke="#000" stroke-width="2.6" stroke-linecap="butt"/>
<text x="243.2" y="605.4" font-size="16.4" text-anchor="end" fill="#1c1c1c" stroke="#1c1c1c" stroke-width="0.3">15</text>
<line x1="269.7" y1="755.5" x2="269.7" y2="764" stroke="#000" stroke-width="2.6" stroke-linecap="butt"/>
<text x="0" y="0" font-size="16.4" text-anchor="end" transform="translate(276.2 776.5) rotate(-45)" fill="#1c1c1c" stroke="#1c1c1c" stroke-width="0.3">Col-0</text>
<line x1="300.5" y1="755.5" x2="300.5" y2="764" stroke="#000" stroke-width="2.6" stroke-linecap="butt"/>
<text x="0" y="0" font-size="16.4" text-anchor="end" font-style="italic" transform="translate(307 776.5) rotate(-45)" fill="#1c1c1c" stroke="#1c1c1c" stroke-width="0.3">rfc4e-1</text>
<line x1="330.9" y1="755.5" x2="330.9" y2="764" stroke="#000" stroke-width="2.6" stroke-linecap="butt"/>
<text x="0" y="0" font-size="16.4" text-anchor="end" font-style="italic" transform="translate(337.4 776.5) rotate(-45)" fill="#1c1c1c" stroke="#1c1c1c" stroke-width="0.3">rfc4e-2</text>
<line x1="361.7" y1="755.5" x2="361.7" y2="764" stroke="#000" stroke-width="2.6" stroke-linecap="butt"/>
<text x="0" y="0" font-size="16.4" text-anchor="end" font-style="italic" transform="translate(368.2 776.5) rotate(-45)" fill="#1c1c1c" stroke="#1c1c1c" stroke-width="0.3">rfc4e-3</text>
<polyline points="270.4,651.2 270.4,647.2 301.3,647.2 301.3,651.2" fill="none" stroke="#2a1f18" stroke-width="1.9"/>
<polygon points="284.65,639.4 285.44,641.41 287.6,641.54 285.93,642.92 286.47,645.01 284.65,643.85 282.83,645.01 283.37,642.92 281.7,641.54 283.86,641.41" fill="#2b2b2b"/>
<polygon points="291.05,639.4 291.84,641.41 294,641.54 292.33,642.92 292.87,645.01 291.05,643.85 289.23,645.01 289.77,642.92 288.1,641.54 290.26,641.41" fill="#2b2b2b"/>
<polyline points="270.4,637.7 270.4,633.7 332.4,633.7 332.4,637.7" fill="none" stroke="#2a1f18" stroke-width="1.9"/>
<polygon points="298.7,625.9 299.49,627.91 301.65,628.04 299.98,629.42 300.52,631.51 298.7,630.35 296.88,631.51 297.42,629.42 295.75,628.04 297.91,627.91" fill="#2b2b2b"/>
<polygon points="305.1,625.9 305.89,627.91 308.05,628.04 306.38,629.42 306.92,631.51 305.1,630.35 303.28,631.51 303.82,629.42 302.15,628.04 304.31,627.91" fill="#2b2b2b"/>
<polyline points="270.4,626 270.4,622 361.7,622 361.7,626" fill="none" stroke="#2a1f18" stroke-width="1.9"/>
<polygon points="310.35,614.2 311.14,616.21 313.3,616.34 311.63,617.72 312.17,619.81 310.35,618.65 308.53,619.81 309.07,617.72 307.4,616.34 309.56,616.21" fill="#2b2b2b"/>
<polygon points="316.75,614.2 317.54,616.21 319.7,616.34 318.03,617.72 318.57,619.81 316.75,618.65 314.93,619.81 315.47,617.72 313.8,616.34 315.96,616.21" fill="#2b2b2b"/>
<text x="297.7" y="586.2" font-size="16.4" text-anchor="start" font-style="italic" fill="#1c1c1c" stroke="#1c1c1c" stroke-width="0.3">SMR5</text>
<text x="0" y="0" font-size="16.4" text-anchor="middle" transform="translate(211.2 679.6) rotate(-90)" fill="#1c1c1c" stroke="#1c1c1c" stroke-width="0.3">Relative expression level</text>
<rect x="447.3" y="752" width="19.5" height="4.2" fill="#2aa3df"/>
<rect x="478" y="653.2" width="19.5" height="103" fill="#fb6b6d"/>
<rect x="508.6" y="669.4" width="19.5" height="86.8" fill="#f8a05c"/>
<rect x="539.3" y="610.4" width="19.5" height="145.8" fill="#3dc6be"/>
<rect x="453.05" y="752.5" width="8" height="3.2" fill="#000"/>
<line x1="487.75" y1="650.2" x2="487.75" y2="659.5" stroke="#000" stroke-width="3" stroke-linecap="butt"/>
<line x1="483.75" y1="650.5" x2="491.75" y2="650.5" stroke="#000" stroke-width="3" stroke-linecap="butt"/>
<line x1="483.75" y1="659.2" x2="491.75" y2="659.2" stroke="#000" stroke-width="3" stroke-linecap="butt"/>
<line x1="518.35" y1="669.2" x2="518.35" y2="673.4" stroke="#000" stroke-width="3" stroke-linecap="butt"/>
<line x1="514.35" y1="669.5" x2="522.35" y2="669.5" stroke="#000" stroke-width="3" stroke-linecap="butt"/>
<line x1="514.35" y1="673.1" x2="522.35" y2="673.1" stroke="#000" stroke-width="3" stroke-linecap="butt"/>
<line x1="549.05" y1="608.9" x2="549.05" y2="615.5" stroke="#000" stroke-width="3" stroke-linecap="butt"/>
<line x1="545.05" y1="609.2" x2="553.05" y2="609.2" stroke="#000" stroke-width="3" stroke-linecap="butt"/>
<line x1="545.05" y1="615.2" x2="553.05" y2="615.2" stroke="#000" stroke-width="3" stroke-linecap="butt"/>
<line x1="441.5" y1="599.8" x2="441.5" y2="757.4" stroke="#000" stroke-width="2.7" stroke-linecap="butt"/>
<line x1="440.3" y1="756.2" x2="565.9" y2="756.2" stroke="#000" stroke-width="2.7" stroke-linecap="butt"/>
<line x1="434" y1="756.2" x2="441.5" y2="756.2" stroke="#000" stroke-width="2.6" stroke-linecap="butt"/>
<text x="430.5" y="762" font-size="16.4" text-anchor="end" fill="#1c1c1c" stroke="#1c1c1c" stroke-width="0.3">0</text>
<line x1="434" y1="704.5" x2="441.5" y2="704.5" stroke="#000" stroke-width="2.6" stroke-linecap="butt"/>
<text x="430.5" y="710.3" font-size="16.4" text-anchor="end" fill="#1c1c1c" stroke="#1c1c1c" stroke-width="0.3">20</text>
<line x1="434" y1="652.8" x2="441.5" y2="652.8" stroke="#000" stroke-width="2.6" stroke-linecap="butt"/>
<text x="430.5" y="658.6" font-size="16.4" text-anchor="end" fill="#1c1c1c" stroke="#1c1c1c" stroke-width="0.3">40</text>
<line x1="434" y1="601" x2="441.5" y2="601" stroke="#000" stroke-width="2.6" stroke-linecap="butt"/>
<text x="430.5" y="606.8" font-size="16.4" text-anchor="end" fill="#1c1c1c" stroke="#1c1c1c" stroke-width="0.3">60</text>
<line x1="457.05" y1="756.2" x2="457.05" y2="764.7" stroke="#000" stroke-width="2.6" stroke-linecap="butt"/>
<text x="0" y="0" font-size="16.4" text-anchor="end" transform="translate(465.55 778.2) rotate(-45)" fill="#1c1c1c" stroke="#1c1c1c" stroke-width="0.3">Col-0</text>
<line x1="487.75" y1="756.2" x2="487.75" y2="764.7" stroke="#000" stroke-width="2.6" stroke-linecap="butt"/>
<text x="0" y="0" font-size="16.4" text-anchor="end" font-style="italic" transform="translate(496.25 778.2) rotate(-45)" fill="#1c1c1c" stroke="#1c1c1c" stroke-width="0.3">rfc4e-1</text>
<line x1="518.35" y1="756.2" x2="518.35" y2="764.7" stroke="#000" stroke-width="2.6" stroke-linecap="butt"/>
<text x="0" y="0" font-size="16.4" text-anchor="end" font-style="italic" transform="translate(526.85 778.2) rotate(-45)" fill="#1c1c1c" stroke="#1c1c1c" stroke-width="0.3">rfc4e-2</text>
<line x1="549.05" y1="756.2" x2="549.05" y2="764.7" stroke="#000" stroke-width="2.6" stroke-linecap="butt"/>
<text x="0" y="0" font-size="16.4" text-anchor="end" font-style="italic" transform="translate(557.55 778.2) rotate(-45)" fill="#1c1c1c" stroke="#1c1c1c" stroke-width="0.3">rfc4e-3</text>
<polyline points="456.8,645.8 456.8,641.8 487.3,641.8 487.3,645.8" fill="none" stroke="#2a1f18" stroke-width="1.9"/>
<polygon points="470.85,634 471.64,636.01 473.8,636.14 472.13,637.52 472.67,639.61 470.85,638.45 469.03,639.61 469.57,637.52 467.9,636.14 470.06,636.01" fill="#2b2b2b"/>
<polygon points="477.25,634 478.04,636.01 480.2,636.14 478.53,637.52 479.07,639.61 477.25,638.45 475.43,639.61 475.97,637.52 474.3,636.14 476.46,636.01" fill="#2b2b2b"/>
<polyline points="456.8,632.9 456.8,628.9 517.9,628.9 517.9,632.9" fill="none" stroke="#2a1f18" stroke-width="1.9"/>
<polygon points="484.65,621.1 485.44,623.11 487.6,623.24 485.93,624.62 486.47,626.71 484.65,625.55 482.83,626.71 483.37,624.62 481.7,623.24 483.86,623.11" fill="#2b2b2b"/>
<polygon points="491.05,621.1 491.84,623.11 494,623.24 492.33,624.62 492.87,626.71 491.05,625.55 489.23,626.71 489.77,624.62 488.1,623.24 490.26,623.11" fill="#2b2b2b"/>
<polyline points="456.8,604.5 456.8,600.5 548.8,600.5 548.8,604.5" fill="none" stroke="#2a1f18" stroke-width="1.9"/>
<polygon points="497.1,592.7 497.89,594.71 500.05,594.84 498.38,596.22 498.92,598.31 497.1,597.15 495.28,598.31 495.82,596.22 494.15,594.84 496.31,594.71" fill="#2b2b2b"/>
<polygon points="503.5,592.7 504.29,594.71 506.45,594.84 504.78,596.22 505.32,598.31 503.5,597.15 501.68,598.31 502.22,596.22 500.55,594.84 502.71,594.71" fill="#2b2b2b"/>
<text x="481" y="586.2" font-size="16.4" text-anchor="start" font-style="italic" fill="#1c1c1c" stroke="#1c1c1c" stroke-width="0.3">SMR7</text>
<text x="0" y="0" font-size="16.4" text-anchor="middle" transform="translate(399 679.6) rotate(-90)" fill="#1c1c1c" stroke="#1c1c1c" stroke-width="0.3">Relative expression level</text>
<rect x="627.8" y="701.2" width="19.6" height="54.5" fill="#2aa3df"/>
<rect x="658" y="630.5" width="19.6" height="125.2" fill="#fb6b6d"/>
<rect x="688.9" y="653.2" width="19.6" height="102.5" fill="#f8a05c"/>
<rect x="719.9" y="667" width="19.6" height="88.7" fill="#3dc6be"/>
<line x1="637.6" y1="696.4" x2="637.6" y2="711.2" stroke="#000" stroke-width="3" stroke-linecap="butt"/>
<line x1="633.6" y1="696.7" x2="641.6" y2="696.7" stroke="#000" stroke-width="3" stroke-linecap="butt"/>
<line x1="633.6" y1="710.9" x2="641.6" y2="710.9" stroke="#000" stroke-width="3" stroke-linecap="butt"/>
<line x1="667.8" y1="628.1" x2="667.8" y2="637.6" stroke="#000" stroke-width="3" stroke-linecap="butt"/>
<line x1="663.8" y1="628.4" x2="671.8" y2="628.4" stroke="#000" stroke-width="3" stroke-linecap="butt"/>
<line x1="663.8" y1="637.3" x2="671.8" y2="637.3" stroke="#000" stroke-width="3" stroke-linecap="butt"/>
<rect x="694.7" y="654.2" width="8" height="3.2" fill="#000"/>
<line x1="729.7" y1="664.1" x2="729.7" y2="673" stroke="#000" stroke-width="3" stroke-linecap="butt"/>
<line x1="725.7" y1="664.4" x2="733.7" y2="664.4" stroke="#000" stroke-width="3" stroke-linecap="butt"/>
<line x1="725.7" y1="672.7" x2="733.7" y2="672.7" stroke="#000" stroke-width="3" stroke-linecap="butt"/>
<line x1="622.4" y1="598.4" x2="622.4" y2="756.9" stroke="#000" stroke-width="2.7" stroke-linecap="butt"/>
<line x1="621.2" y1="755.7" x2="745.7" y2="755.7" stroke="#000" stroke-width="2.7" stroke-linecap="butt"/>
<line x1="614.9" y1="755.7" x2="622.4" y2="755.7" stroke="#000" stroke-width="2.6" stroke-linecap="butt"/>
<text x="611.4" y="761.5" font-size="16.4" text-anchor="end" fill="#1c1c1c" stroke="#1c1c1c" stroke-width="0.3">0</text>
<line x1="614.9" y1="703.7" x2="622.4" y2="703.7" stroke="#000" stroke-width="2.6" stroke-linecap="butt"/>
<text x="611.4" y="709.5" font-size="16.4" text-anchor="end" fill="#1c1c1c" stroke="#1c1c1c" stroke-width="0.3">1</text>
<line x1="614.9" y1="651.6" x2="622.4" y2="651.6" stroke="#000" stroke-width="2.6" stroke-linecap="butt"/>
<text x="611.4" y="657.4" font-size="16.4" text-anchor="end" fill="#1c1c1c" stroke="#1c1c1c" stroke-width="0.3">2</text>
<line x1="614.9" y1="599.6" x2="622.4" y2="599.6" stroke="#000" stroke-width="2.6" stroke-linecap="butt"/>
<text x="611.4" y="605.4" font-size="16.4" text-anchor="end" fill="#1c1c1c" stroke="#1c1c1c" stroke-width="0.3">3</text>
<line x1="637.6" y1="755.7" x2="637.6" y2="764.2" stroke="#000" stroke-width="2.6" stroke-linecap="butt"/>
<text x="0" y="0" font-size="16.4" text-anchor="end" transform="translate(644.6 776.7) rotate(-45)" fill="#1c1c1c" stroke="#1c1c1c" stroke-width="0.3">Col-0</text>
<line x1="667.8" y1="755.7" x2="667.8" y2="764.2" stroke="#000" stroke-width="2.6" stroke-linecap="butt"/>
<text x="0" y="0" font-size="16.4" text-anchor="end" font-style="italic" transform="translate(674.8 776.7) rotate(-45)" fill="#1c1c1c" stroke="#1c1c1c" stroke-width="0.3">rfc4e-1</text>
<line x1="698.7" y1="755.7" x2="698.7" y2="764.2" stroke="#000" stroke-width="2.6" stroke-linecap="butt"/>
<text x="0" y="0" font-size="16.4" text-anchor="end" font-style="italic" transform="translate(705.7 776.7) rotate(-45)" fill="#1c1c1c" stroke="#1c1c1c" stroke-width="0.3">rfc4e-2</text>
<line x1="729.7" y1="755.7" x2="729.7" y2="764.2" stroke="#000" stroke-width="2.6" stroke-linecap="butt"/>
<text x="0" y="0" font-size="16.4" text-anchor="end" font-style="italic" transform="translate(736.7 776.7) rotate(-45)" fill="#1c1c1c" stroke="#1c1c1c" stroke-width="0.3">rfc4e-3</text>
<polyline points="637.1,623 637.1,619 668.2,619 668.2,623" fill="none" stroke="#2a1f18" stroke-width="1.9"/>
<polygon points="651.45,611.2 652.24,613.21 654.4,613.34 652.73,614.72 653.27,616.81 651.45,615.65 649.63,616.81 650.17,614.72 648.5,613.34 650.66,613.21" fill="#2b2b2b"/>
<polygon points="657.85,611.2 658.64,613.21 660.8,613.34 659.13,614.72 659.67,616.81 657.85,615.65 656.03,616.81 656.57,614.72 654.9,613.34 657.06,613.21" fill="#2b2b2b"/>
<polyline points="637.1,612.6 637.1,608.6 699.4,608.6 699.4,612.6" fill="none" stroke="#2a1f18" stroke-width="1.9"/>
<polygon points="665.55,600.8 666.34,602.81 668.5,602.94 666.83,604.32 667.37,606.41 665.55,605.25 663.73,606.41 664.27,604.32 662.6,602.94 664.76,602.81" fill="#2b2b2b"/>
<polygon points="671.95,600.8 672.74,602.81 674.9,602.94 673.23,604.32 673.77,606.41 671.95,605.25 670.13,606.41 670.67,604.32 669,602.94 671.16,602.81" fill="#2b2b2b"/>
<polyline points="637.1,602.1 637.1,598.1 730.3,598.1 730.3,602.1" fill="none" stroke="#2a1f18" stroke-width="1.9"/>
<polygon points="678,590.3 678.79,592.31 680.95,592.44 679.28,593.82 679.82,595.91 678,594.75 676.18,595.91 676.72,593.82 675.05,592.44 677.21,592.31" fill="#2b2b2b"/>
<polygon points="684.4,590.3 685.19,592.31 687.35,592.44 685.68,593.82 686.22,595.91 684.4,594.75 682.58,595.91 683.12,593.82 681.45,592.44 683.61,592.31" fill="#2b2b2b"/>
<text x="663.7" y="588.8" font-size="16.4" text-anchor="start" font-style="italic" fill="#1c1c1c" stroke="#1c1c1c" stroke-width="0.3">WEE1</text>
<text x="0" y="0" font-size="16.4" text-anchor="middle" transform="translate(588.6 679.6) rotate(-90)" fill="#1c1c1c" stroke="#1c1c1c" stroke-width="0.3">Relative expression level</text>
<rect x="822.8" y="742.3" width="19.7" height="12.7" fill="#2aa3df"/>
<rect x="853.2" y="692.5" width="19.7" height="62.5" fill="#fb6b6d"/>
<rect x="884.4" y="662.9" width="19.7" height="92.1" fill="#f8a05c"/>
<rect x="915" y="649" width="19.7" height="106" fill="#3dc6be"/>
<line x1="832.65" y1="741.3" x2="832.65" y2="747.7" stroke="#000" stroke-width="3" stroke-linecap="butt"/>
<line x1="828.65" y1="741.6" x2="836.65" y2="741.6" stroke="#000" stroke-width="3" stroke-linecap="butt"/>
<line x1="828.65" y1="747.4" x2="836.65" y2="747.4" stroke="#000" stroke-width="3" stroke-linecap="butt"/>
<line x1="863.05" y1="691.5" x2="863.05" y2="697.3" stroke="#000" stroke-width="3" stroke-linecap="butt"/>
<line x1="859.05" y1="691.8" x2="867.05" y2="691.8" stroke="#000" stroke-width="3" stroke-linecap="butt"/>
<line x1="859.05" y1="697" x2="867.05" y2="697" stroke="#000" stroke-width="3" stroke-linecap="butt"/>
<line x1="894.25" y1="661" x2="894.25" y2="668.8" stroke="#000" stroke-width="3" stroke-linecap="butt"/>
<line x1="890.25" y1="661.3" x2="898.25" y2="661.3" stroke="#000" stroke-width="3" stroke-linecap="butt"/>
<line x1="890.25" y1="668.5" x2="898.25" y2="668.5" stroke="#000" stroke-width="3" stroke-linecap="butt"/>
<line x1="924.85" y1="632.2" x2="924.85" y2="670" stroke="#000" stroke-width="3" stroke-linecap="butt"/>
<line x1="920.85" y1="632.5" x2="928.85" y2="632.5" stroke="#000" stroke-width="3" stroke-linecap="butt"/>
<line x1="920.85" y1="669.7" x2="928.85" y2="669.7" stroke="#000" stroke-width="3" stroke-linecap="butt"/>
<line x1="816.7" y1="597.5" x2="816.7" y2="756.2" stroke="#000" stroke-width="2.7" stroke-linecap="butt"/>
<line x1="815.5" y1="755" x2="941" y2="755" stroke="#000" stroke-width="2.7" stroke-linecap="butt"/>
<line x1="809.2" y1="755" x2="816.7" y2="755" stroke="#000" stroke-width="2.6" stroke-linecap="butt"/>
<text x="805.7" y="760.8" font-size="16.4" text-anchor="end" fill="#1c1c1c" stroke="#1c1c1c" stroke-width="0.3">0</text>
<line x1="809.2" y1="702.9" x2="816.7" y2="702.9" stroke="#000" stroke-width="2.6" stroke-linecap="butt"/>
<text x="805.7" y="708.7" font-size="16.4" text-anchor="end" fill="#1c1c1c" stroke="#1c1c1c" stroke-width="0.3">5</text>
<line x1="809.2" y1="651.2" x2="816.7" y2="651.2" stroke="#000" stroke-width="2.6" stroke-linecap="butt"/>
<text x="805.7" y="657" font-size="16.4" text-anchor="end" fill="#1c1c1c" stroke="#1c1c1c" stroke-width="0.3">10</text>
<line x1="809.2" y1="598.7" x2="816.7" y2="598.7" stroke="#000" stroke-width="2.6" stroke-linecap="butt"/>
<text x="805.7" y="604.5" font-size="16.4" text-anchor="end" fill="#1c1c1c" stroke="#1c1c1c" stroke-width="0.3">15</text>
<line x1="832.65" y1="755" x2="832.65" y2="763.5" stroke="#000" stroke-width="2.6" stroke-linecap="butt"/>
<text x="0" y="0" font-size="16.4" text-anchor="end" transform="translate(842.15 774.5) rotate(-45)" fill="#1c1c1c" stroke="#1c1c1c" stroke-width="0.3">Col-0</text>
<line x1="863.05" y1="755" x2="863.05" y2="763.5" stroke="#000" stroke-width="2.6" stroke-linecap="butt"/>
<text x="0" y="0" font-size="16.4" text-anchor="end" font-style="italic" transform="translate(872.55 774.5) rotate(-45)" fill="#1c1c1c" stroke="#1c1c1c" stroke-width="0.3">rfc4e-1</text>
<line x1="894.25" y1="755" x2="894.25" y2="763.5" stroke="#000" stroke-width="2.6" stroke-linecap="butt"/>
<text x="0" y="0" font-size="16.4" text-anchor="end" font-style="italic" transform="translate(903.75 774.5) rotate(-45)" fill="#1c1c1c" stroke="#1c1c1c" stroke-width="0.3">rfc4e-2</text>
<line x1="924.85" y1="755" x2="924.85" y2="763.5" stroke="#000" stroke-width="2.6" stroke-linecap="butt"/>
<text x="0" y="0" font-size="16.4" text-anchor="end" font-style="italic" transform="translate(934.35 774.5) rotate(-45)" fill="#1c1c1c" stroke="#1c1c1c" stroke-width="0.3">rfc4e-3</text>
<polyline points="833.5,651.2 833.5,647.2 864,647.2 864,651.2" fill="none" stroke="#2a1f18" stroke-width="1.9"/>
<polygon points="847.55,639.4 848.34,641.41 850.5,641.54 848.83,642.92 849.37,645.01 847.55,643.85 845.73,645.01 846.27,642.92 844.6,641.54 846.76,641.41" fill="#2b2b2b"/>
<polygon points="853.95,639.4 854.74,641.41 856.9,641.54 855.23,642.92 855.77,645.01 853.95,643.85 852.13,645.01 852.67,642.92 851,641.54 853.16,641.41" fill="#2b2b2b"/>
<polyline points="833.5,637.7 833.5,633.7 895.1,633.7 895.1,637.7" fill="none" stroke="#2a1f18" stroke-width="1.9"/>
<polygon points="861.6,625.9 862.39,627.91 864.55,628.04 862.88,629.42 863.42,631.51 861.6,630.35 859.78,631.51 860.32,629.42 858.65,628.04 860.81,627.91" fill="#2b2b2b"/>
<polygon points="868,625.9 868.79,627.91 870.95,628.04 869.28,629.42 869.82,631.51 868,630.35 866.18,631.51 866.72,629.42 865.05,628.04 867.21,627.91" fill="#2b2b2b"/>
<polyline points="833.5,626 833.5,622 925.2,622 925.2,626" fill="none" stroke="#2a1f18" stroke-width="1.9"/>
<polygon points="873.65,614.2 874.44,616.21 876.6,616.34 874.93,617.72 875.47,619.81 873.65,618.65 871.83,619.81 872.37,617.72 870.7,616.34 872.86,616.21" fill="#2b2b2b"/>
<polygon points="880.05,614.2 880.84,616.21 883,616.34 881.33,617.72 881.87,619.81 880.05,618.65 878.23,619.81 878.77,617.72 877.1,616.34 879.26,616.21" fill="#2b2b2b"/>
<text x="847.8" y="588.8" font-size="16.4" text-anchor="start" font-style="italic" fill="#1c1c1c" stroke="#1c1c1c" stroke-width="0.3">CYCB1;1</text>
<text x="0" y="0" font-size="16.4" text-anchor="middle" transform="translate(773.5 679.6) rotate(-90)" fill="#1c1c1c" stroke="#1c1c1c" stroke-width="0.3">Relative expression level</text>
</svg></body></html>
